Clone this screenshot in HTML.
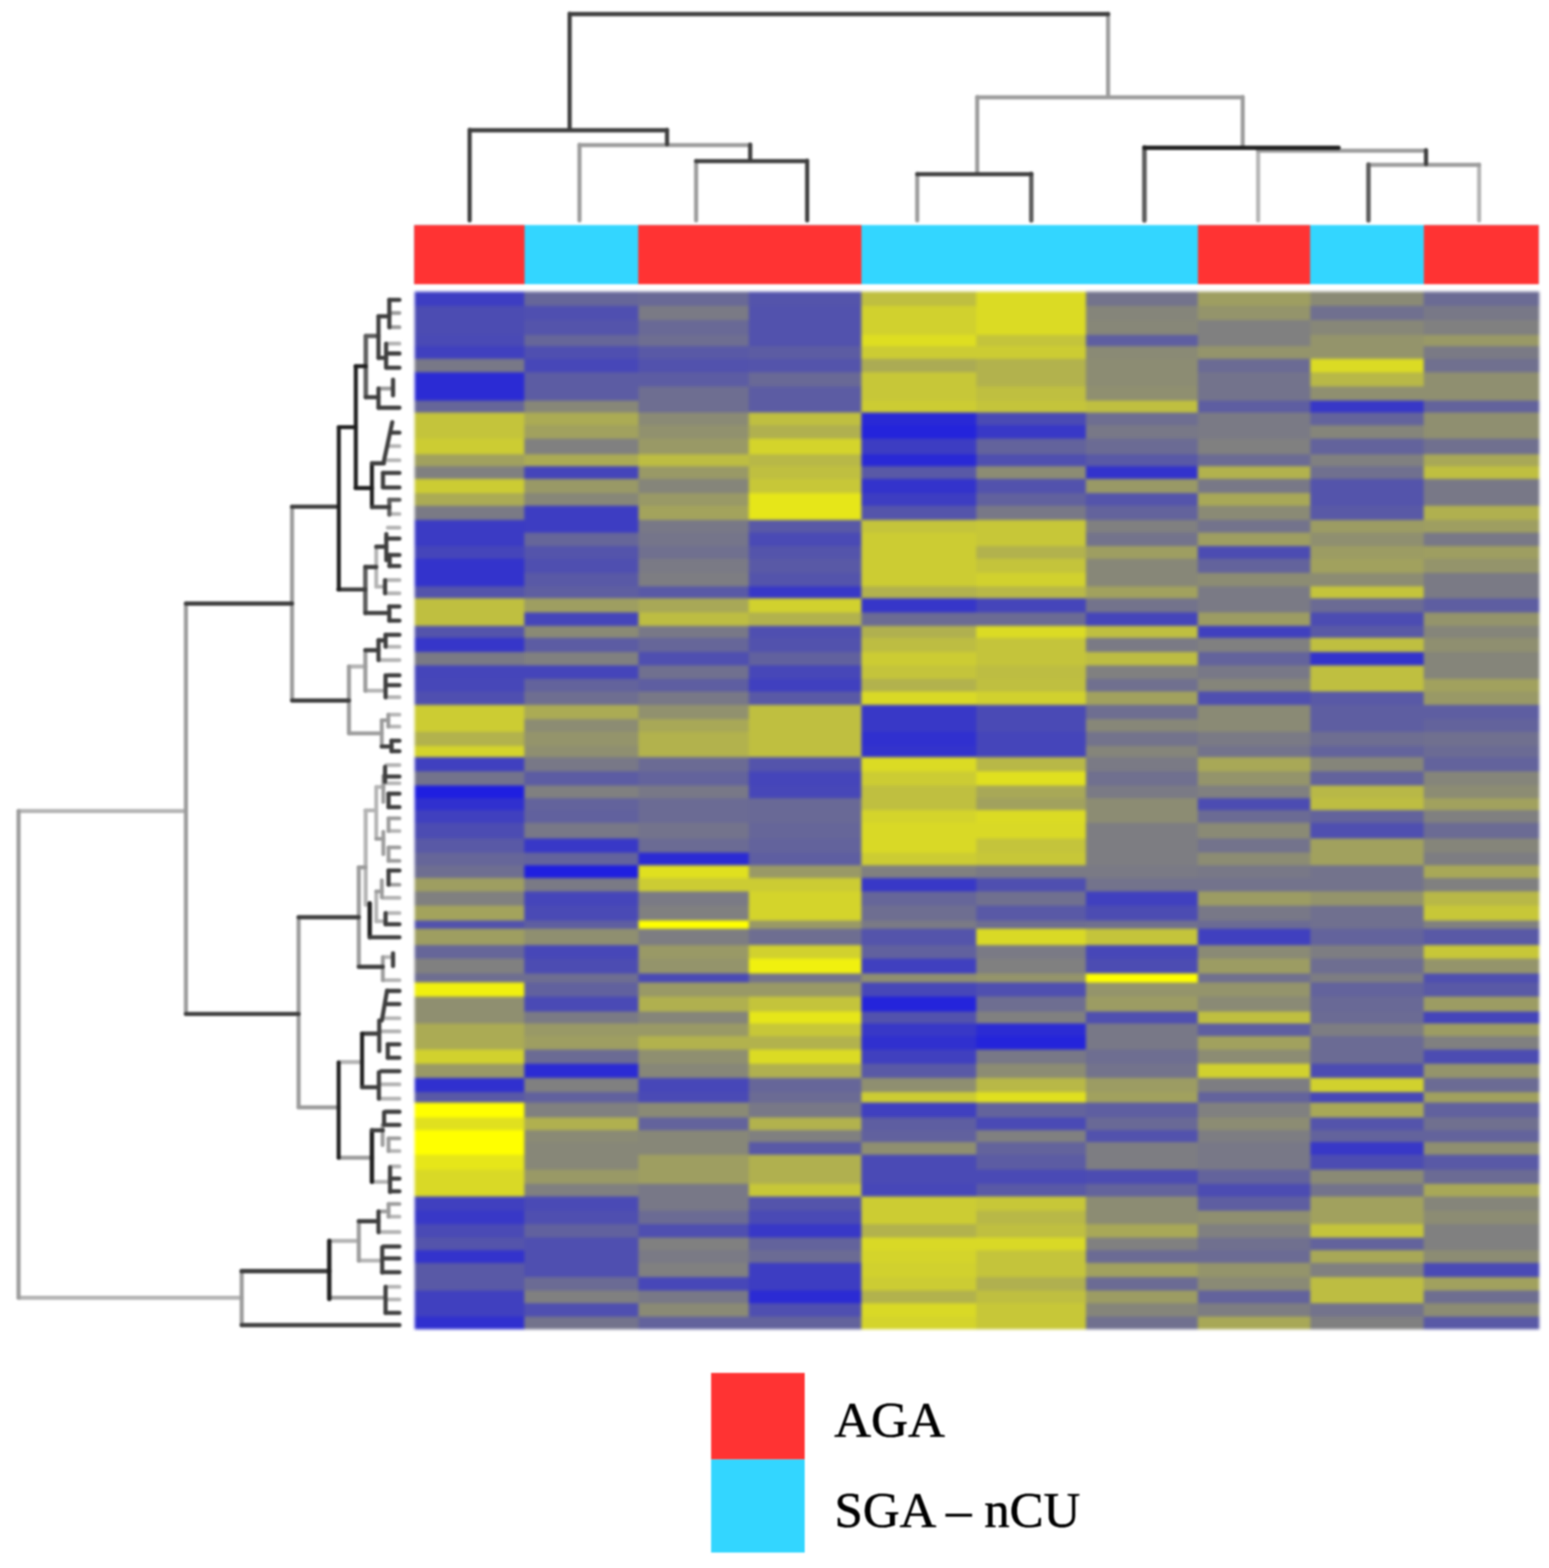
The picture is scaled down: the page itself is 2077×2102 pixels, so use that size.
<!DOCTYPE html>
<html lang="en"><head><meta charset="utf-8"><title>Heatmap AGA vs SGA-nCU</title>
<style>html,body{margin:0;padding:0;background:#fff}body{width:2077px;height:2102px;overflow:hidden;position:relative}svg{position:absolute;left:0;top:0;display:block}text{font-family:"Liberation Serif","DejaVu Serif",serif;fill:#000}</style></head><body>
<svg width="2077" height="2102" viewBox="0 0 2077 2102">
<defs><filter id="b1" x="-5%" y="-5%" width="110%" height="110%" color-interpolation-filters="sRGB"><feGaussianBlur stdDeviation="2.0 2.2"/></filter><filter id="b2" x="-5%" y="-5%" width="110%" height="110%" color-interpolation-filters="sRGB"><feGaussianBlur stdDeviation="1.7"/></filter><filter id="b3" x="-5%" y="-5%" width="110%" height="110%" color-interpolation-filters="sRGB"><feGaussianBlur stdDeviation="1.1"/></filter><filter id="b4" x="-5%" y="-20%" width="110%" height="140%" color-interpolation-filters="sRGB"><feGaussianBlur stdDeviation="1.2"/></filter></defs>
<rect width="2077" height="2102" fill="#fff"/>
<g filter="url(#b1)" shape-rendering="crispEdges">
<rect x="556.0" y="390.8" width="147.7" height="19.0" fill="#3d3dc2"/>
<rect x="556.0" y="409.5" width="147.7" height="19.8" fill="#4c4cb2"/>
<rect x="556.0" y="429.0" width="147.7" height="19.8" fill="#4c4cb2"/>
<rect x="556.0" y="448.5" width="147.7" height="15.8" fill="#4a4ab5"/>
<rect x="556.0" y="464.0" width="147.7" height="17.3" fill="#4040bf"/>
<rect x="556.0" y="481.0" width="147.7" height="17.8" fill="#787887"/>
<rect x="556.0" y="498.5" width="147.7" height="19.8" fill="#2b2bd4"/>
<rect x="556.0" y="518.0" width="147.7" height="19.3" fill="#2b2bd4"/>
<rect x="556.0" y="537.0" width="147.7" height="15.8" fill="#666699"/>
<rect x="556.0" y="552.5" width="147.7" height="17.8" fill="#c4c43b"/>
<rect x="556.0" y="570.0" width="147.7" height="18.3" fill="#c4c43b"/>
<rect x="556.0" y="588.0" width="147.7" height="21.1" fill="#cccc33"/>
<rect x="556.0" y="608.8" width="147.7" height="16.0" fill="#a1a15e"/>
<rect x="556.0" y="624.5" width="147.7" height="17.3" fill="#808080"/>
<rect x="556.0" y="641.5" width="147.7" height="19.4" fill="#cccc33"/>
<rect x="556.0" y="660.6" width="147.7" height="17.3" fill="#abab54"/>
<rect x="556.0" y="677.6" width="147.7" height="19.5" fill="#7a7a85"/>
<rect x="556.0" y="696.8" width="147.7" height="17.3" fill="#3b3bc4"/>
<rect x="556.0" y="713.8" width="147.7" height="18.0" fill="#3b3bc4"/>
<rect x="556.0" y="731.5" width="147.7" height="17.8" fill="#4545ba"/>
<rect x="556.0" y="749.0" width="147.7" height="19.3" fill="#3333cc"/>
<rect x="556.0" y="768.0" width="147.7" height="18.4" fill="#3333cc"/>
<rect x="556.0" y="786.1" width="147.7" height="16.2" fill="#5454ab"/>
<rect x="556.0" y="802.0" width="147.7" height="18.9" fill="#bfbf40"/>
<rect x="556.0" y="820.6" width="147.7" height="18.2" fill="#bfbf40"/>
<rect x="556.0" y="838.5" width="147.7" height="16.3" fill="#5454ab"/>
<rect x="556.0" y="854.5" width="147.7" height="19.8" fill="#3636c9"/>
<rect x="556.0" y="874.0" width="147.7" height="18.5" fill="#7a7a85"/>
<rect x="556.0" y="892.2" width="147.7" height="17.9" fill="#4545ba"/>
<rect x="556.0" y="909.8" width="147.7" height="17.9" fill="#4747b8"/>
<rect x="556.0" y="927.4" width="147.7" height="17.9" fill="#4f4fb0"/>
<rect x="556.0" y="945.0" width="147.7" height="19.2" fill="#cccc33"/>
<rect x="556.0" y="963.9" width="147.7" height="17.4" fill="#cccc33"/>
<rect x="556.0" y="981.0" width="147.7" height="19.0" fill="#b2b24d"/>
<rect x="556.0" y="999.7" width="147.7" height="15.6" fill="#d4d42b"/>
<rect x="556.0" y="1015.0" width="147.7" height="19.6" fill="#4040bf"/>
<rect x="556.0" y="1034.3" width="147.7" height="19.0" fill="#73738c"/>
<rect x="556.0" y="1053.0" width="147.7" height="16.8" fill="#1f1fe0"/>
<rect x="556.0" y="1069.5" width="147.7" height="16.5" fill="#3030cf"/>
<rect x="556.0" y="1085.7" width="147.7" height="17.9" fill="#4040bf"/>
<rect x="556.0" y="1103.3" width="147.7" height="21.0" fill="#4c4cb2"/>
<rect x="556.0" y="1124.0" width="147.7" height="19.2" fill="#5959a6"/>
<rect x="556.0" y="1142.9" width="147.7" height="17.2" fill="#666699"/>
<rect x="556.0" y="1159.8" width="147.7" height="17.5" fill="#6e6e91"/>
<rect x="556.0" y="1177.0" width="147.7" height="18.3" fill="#9e9e61"/>
<rect x="556.0" y="1195.0" width="147.7" height="19.3" fill="#808080"/>
<rect x="556.0" y="1214.0" width="147.7" height="20.6" fill="#a3a35c"/>
<rect x="556.0" y="1234.3" width="147.7" height="11.3" fill="#5252ad"/>
<rect x="556.0" y="1245.3" width="147.7" height="22.0" fill="#9e9e61"/>
<rect x="556.0" y="1267.0" width="147.7" height="18.3" fill="#666699"/>
<rect x="556.0" y="1285.0" width="147.7" height="20.1" fill="#808080"/>
<rect x="556.0" y="1304.8" width="147.7" height="12.0" fill="#6e6e91"/>
<rect x="556.0" y="1316.5" width="147.7" height="19.8" fill="#f0f00f"/>
<rect x="556.0" y="1336.0" width="147.7" height="19.8" fill="#8f8f70"/>
<rect x="556.0" y="1355.5" width="147.7" height="17.1" fill="#8f8f70"/>
<rect x="556.0" y="1372.3" width="147.7" height="17.3" fill="#abab54"/>
<rect x="556.0" y="1389.3" width="147.7" height="17.5" fill="#abab54"/>
<rect x="556.0" y="1406.5" width="147.7" height="19.8" fill="#d1d12e"/>
<rect x="556.0" y="1426.0" width="147.7" height="19.5" fill="#999966"/>
<rect x="556.0" y="1445.2" width="147.7" height="19.2" fill="#3030cf"/>
<rect x="556.0" y="1464.1" width="147.7" height="14.1" fill="#5959a6"/>
<rect x="556.0" y="1477.9" width="147.7" height="19.9" fill="#ffff00"/>
<rect x="556.0" y="1497.5" width="147.7" height="17.3" fill="#e0e01f"/>
<rect x="556.0" y="1514.5" width="147.7" height="16.8" fill="#ffff00"/>
<rect x="556.0" y="1531.0" width="147.7" height="17.3" fill="#ffff00"/>
<rect x="556.0" y="1548.0" width="147.7" height="20.3" fill="#e6e619"/>
<rect x="556.0" y="1568.0" width="147.7" height="19.0" fill="#d9d926"/>
<rect x="556.0" y="1586.7" width="147.7" height="18.0" fill="#d9d926"/>
<rect x="556.0" y="1604.4" width="147.7" height="18.9" fill="#4040bf"/>
<rect x="556.0" y="1623.0" width="147.7" height="17.8" fill="#3838c7"/>
<rect x="556.0" y="1640.5" width="147.7" height="18.5" fill="#4a4ab5"/>
<rect x="556.0" y="1658.7" width="147.7" height="17.6" fill="#5454ab"/>
<rect x="556.0" y="1676.0" width="147.7" height="17.3" fill="#3333cc"/>
<rect x="556.0" y="1693.0" width="147.7" height="18.8" fill="#5959a6"/>
<rect x="556.0" y="1711.5" width="147.7" height="18.8" fill="#5959a6"/>
<rect x="556.0" y="1730.0" width="147.7" height="17.5" fill="#4040bf"/>
<rect x="556.0" y="1747.2" width="147.7" height="18.4" fill="#4040bf"/>
<rect x="556.0" y="1765.3" width="147.7" height="16.6" fill="#3030cf"/>
<rect x="703.4" y="390.8" width="152.7" height="19.0" fill="#666699"/>
<rect x="703.4" y="409.5" width="152.7" height="19.8" fill="#4f4fb0"/>
<rect x="703.4" y="429.0" width="152.7" height="19.8" fill="#5454ab"/>
<rect x="703.4" y="448.5" width="152.7" height="15.8" fill="#666699"/>
<rect x="703.4" y="464.0" width="152.7" height="17.3" fill="#4f4fb0"/>
<rect x="703.4" y="481.0" width="152.7" height="17.8" fill="#4747b8"/>
<rect x="703.4" y="498.5" width="152.7" height="19.8" fill="#5c5ca3"/>
<rect x="703.4" y="518.0" width="152.7" height="19.3" fill="#5c5ca3"/>
<rect x="703.4" y="537.0" width="152.7" height="15.8" fill="#878778"/>
<rect x="703.4" y="552.5" width="152.7" height="17.8" fill="#abab54"/>
<rect x="703.4" y="570.0" width="152.7" height="18.3" fill="#a1a15e"/>
<rect x="703.4" y="588.0" width="152.7" height="21.1" fill="#808080"/>
<rect x="703.4" y="608.8" width="152.7" height="16.0" fill="#abab54"/>
<rect x="703.4" y="624.5" width="152.7" height="17.3" fill="#4545ba"/>
<rect x="703.4" y="641.5" width="152.7" height="19.4" fill="#999966"/>
<rect x="703.4" y="660.6" width="152.7" height="17.3" fill="#878778"/>
<rect x="703.4" y="677.6" width="152.7" height="19.5" fill="#3d3dc2"/>
<rect x="703.4" y="696.8" width="152.7" height="17.3" fill="#3d3dc2"/>
<rect x="703.4" y="713.8" width="152.7" height="18.0" fill="#666699"/>
<rect x="703.4" y="731.5" width="152.7" height="17.8" fill="#5454ab"/>
<rect x="703.4" y="749.0" width="152.7" height="19.3" fill="#4f4fb0"/>
<rect x="703.4" y="768.0" width="152.7" height="18.4" fill="#5959a6"/>
<rect x="703.4" y="786.1" width="152.7" height="16.2" fill="#5e5ea1"/>
<rect x="703.4" y="802.0" width="152.7" height="18.9" fill="#9e9e61"/>
<rect x="703.4" y="820.6" width="152.7" height="18.2" fill="#4545ba"/>
<rect x="703.4" y="838.5" width="152.7" height="16.3" fill="#8a8a75"/>
<rect x="703.4" y="854.5" width="152.7" height="19.8" fill="#5c5ca3"/>
<rect x="703.4" y="874.0" width="152.7" height="18.5" fill="#808080"/>
<rect x="703.4" y="892.2" width="152.7" height="17.9" fill="#4545ba"/>
<rect x="703.4" y="909.8" width="152.7" height="17.9" fill="#63639c"/>
<rect x="703.4" y="927.4" width="152.7" height="17.9" fill="#6e6e91"/>
<rect x="703.4" y="945.0" width="152.7" height="19.2" fill="#abab54"/>
<rect x="703.4" y="963.9" width="152.7" height="17.4" fill="#8c8c73"/>
<rect x="703.4" y="981.0" width="152.7" height="19.0" fill="#94946b"/>
<rect x="703.4" y="999.7" width="152.7" height="15.6" fill="#8f8f70"/>
<rect x="703.4" y="1015.0" width="152.7" height="19.6" fill="#787887"/>
<rect x="703.4" y="1034.3" width="152.7" height="19.0" fill="#5c5ca3"/>
<rect x="703.4" y="1053.0" width="152.7" height="16.8" fill="#808080"/>
<rect x="703.4" y="1069.5" width="152.7" height="16.5" fill="#63639c"/>
<rect x="703.4" y="1085.7" width="152.7" height="17.9" fill="#61619e"/>
<rect x="703.4" y="1103.3" width="152.7" height="21.0" fill="#787887"/>
<rect x="703.4" y="1124.0" width="152.7" height="19.2" fill="#3838c7"/>
<rect x="703.4" y="1142.9" width="152.7" height="17.2" fill="#63639c"/>
<rect x="703.4" y="1159.8" width="152.7" height="17.5" fill="#1f1fe0"/>
<rect x="703.4" y="1177.0" width="152.7" height="18.3" fill="#7a7a85"/>
<rect x="703.4" y="1195.0" width="152.7" height="19.3" fill="#4545ba"/>
<rect x="703.4" y="1214.0" width="152.7" height="20.6" fill="#4a4ab5"/>
<rect x="703.4" y="1234.3" width="152.7" height="11.3" fill="#5e5ea1"/>
<rect x="703.4" y="1245.3" width="152.7" height="22.0" fill="#8f8f70"/>
<rect x="703.4" y="1267.0" width="152.7" height="18.3" fill="#4747b8"/>
<rect x="703.4" y="1285.0" width="152.7" height="20.1" fill="#4c4cb2"/>
<rect x="703.4" y="1304.8" width="152.7" height="12.0" fill="#6e6e91"/>
<rect x="703.4" y="1316.5" width="152.7" height="19.8" fill="#61619e"/>
<rect x="703.4" y="1336.0" width="152.7" height="19.8" fill="#4a4ab5"/>
<rect x="703.4" y="1355.5" width="152.7" height="17.1" fill="#7a7a85"/>
<rect x="703.4" y="1372.3" width="152.7" height="17.3" fill="#999966"/>
<rect x="703.4" y="1389.3" width="152.7" height="17.5" fill="#9e9e61"/>
<rect x="703.4" y="1406.5" width="152.7" height="19.8" fill="#6b6b94"/>
<rect x="703.4" y="1426.0" width="152.7" height="19.5" fill="#2b2bd4"/>
<rect x="703.4" y="1445.2" width="152.7" height="19.2" fill="#808080"/>
<rect x="703.4" y="1464.1" width="152.7" height="14.1" fill="#61619e"/>
<rect x="703.4" y="1477.9" width="152.7" height="19.9" fill="#808080"/>
<rect x="703.4" y="1497.5" width="152.7" height="17.3" fill="#b0b04f"/>
<rect x="703.4" y="1514.5" width="152.7" height="16.8" fill="#8a8a75"/>
<rect x="703.4" y="1531.0" width="152.7" height="17.3" fill="#878778"/>
<rect x="703.4" y="1548.0" width="152.7" height="20.3" fill="#878778"/>
<rect x="703.4" y="1568.0" width="152.7" height="19.0" fill="#999966"/>
<rect x="703.4" y="1586.7" width="152.7" height="18.0" fill="#808080"/>
<rect x="703.4" y="1604.4" width="152.7" height="18.9" fill="#4a4ab5"/>
<rect x="703.4" y="1623.0" width="152.7" height="17.8" fill="#4f4fb0"/>
<rect x="703.4" y="1640.5" width="152.7" height="18.5" fill="#61619e"/>
<rect x="703.4" y="1658.7" width="152.7" height="17.6" fill="#4f4fb0"/>
<rect x="703.4" y="1676.0" width="152.7" height="17.3" fill="#4f4fb0"/>
<rect x="703.4" y="1693.0" width="152.7" height="18.8" fill="#4f4fb0"/>
<rect x="703.4" y="1711.5" width="152.7" height="18.8" fill="#6b6b94"/>
<rect x="703.4" y="1730.0" width="152.7" height="17.5" fill="#808080"/>
<rect x="703.4" y="1747.2" width="152.7" height="18.4" fill="#4f4fb0"/>
<rect x="703.4" y="1765.3" width="152.7" height="16.6" fill="#73738c"/>
<rect x="855.8" y="390.8" width="148.4" height="19.0" fill="#696996"/>
<rect x="855.8" y="409.5" width="148.4" height="19.8" fill="#7a7a85"/>
<rect x="855.8" y="429.0" width="148.4" height="19.8" fill="#696996"/>
<rect x="855.8" y="448.5" width="148.4" height="15.8" fill="#6e6e91"/>
<rect x="855.8" y="464.0" width="148.4" height="17.3" fill="#5959a6"/>
<rect x="855.8" y="481.0" width="148.4" height="17.8" fill="#5252ad"/>
<rect x="855.8" y="498.5" width="148.4" height="19.8" fill="#5c5ca3"/>
<rect x="855.8" y="518.0" width="148.4" height="19.3" fill="#6e6e91"/>
<rect x="855.8" y="537.0" width="148.4" height="15.8" fill="#6e6e91"/>
<rect x="855.8" y="552.5" width="148.4" height="17.8" fill="#8a8a75"/>
<rect x="855.8" y="570.0" width="148.4" height="18.3" fill="#91916e"/>
<rect x="855.8" y="588.0" width="148.4" height="21.1" fill="#999966"/>
<rect x="855.8" y="608.8" width="148.4" height="16.0" fill="#bdbd42"/>
<rect x="855.8" y="624.5" width="148.4" height="17.3" fill="#999966"/>
<rect x="855.8" y="641.5" width="148.4" height="19.4" fill="#85857a"/>
<rect x="855.8" y="660.6" width="148.4" height="17.3" fill="#999966"/>
<rect x="855.8" y="677.6" width="148.4" height="19.5" fill="#a3a35c"/>
<rect x="855.8" y="696.8" width="148.4" height="17.3" fill="#787887"/>
<rect x="855.8" y="713.8" width="148.4" height="18.0" fill="#75758a"/>
<rect x="855.8" y="731.5" width="148.4" height="17.8" fill="#70708f"/>
<rect x="855.8" y="749.0" width="148.4" height="19.3" fill="#7a7a85"/>
<rect x="855.8" y="768.0" width="148.4" height="18.4" fill="#7d7d82"/>
<rect x="855.8" y="786.1" width="148.4" height="16.2" fill="#5959a6"/>
<rect x="855.8" y="802.0" width="148.4" height="18.9" fill="#a8a857"/>
<rect x="855.8" y="820.6" width="148.4" height="18.2" fill="#bdbd42"/>
<rect x="855.8" y="838.5" width="148.4" height="16.3" fill="#787887"/>
<rect x="855.8" y="854.5" width="148.4" height="19.8" fill="#666699"/>
<rect x="855.8" y="874.0" width="148.4" height="18.5" fill="#4f4fb0"/>
<rect x="855.8" y="892.2" width="148.4" height="17.9" fill="#70708f"/>
<rect x="855.8" y="909.8" width="148.4" height="17.9" fill="#5e5ea1"/>
<rect x="855.8" y="927.4" width="148.4" height="17.9" fill="#787887"/>
<rect x="855.8" y="945.0" width="148.4" height="19.2" fill="#91916e"/>
<rect x="855.8" y="963.9" width="148.4" height="17.4" fill="#a8a857"/>
<rect x="855.8" y="981.0" width="148.4" height="19.0" fill="#b2b24d"/>
<rect x="855.8" y="999.7" width="148.4" height="15.6" fill="#b2b24d"/>
<rect x="855.8" y="1015.0" width="148.4" height="19.6" fill="#6b6b94"/>
<rect x="855.8" y="1034.3" width="148.4" height="19.0" fill="#63639c"/>
<rect x="855.8" y="1053.0" width="148.4" height="16.8" fill="#787887"/>
<rect x="855.8" y="1069.5" width="148.4" height="16.5" fill="#6b6b94"/>
<rect x="855.8" y="1085.7" width="148.4" height="17.9" fill="#6b6b94"/>
<rect x="855.8" y="1103.3" width="148.4" height="21.0" fill="#73738c"/>
<rect x="855.8" y="1124.0" width="148.4" height="19.2" fill="#6b6b94"/>
<rect x="855.8" y="1142.9" width="148.4" height="17.2" fill="#2b2bd4"/>
<rect x="855.8" y="1159.8" width="148.4" height="17.5" fill="#e0e01f"/>
<rect x="855.8" y="1177.0" width="148.4" height="18.3" fill="#cccc33"/>
<rect x="855.8" y="1195.0" width="148.4" height="19.3" fill="#7a7a85"/>
<rect x="855.8" y="1214.0" width="148.4" height="20.6" fill="#808080"/>
<rect x="855.8" y="1234.3" width="148.4" height="11.3" fill="#ffff00"/>
<rect x="855.8" y="1245.3" width="148.4" height="22.0" fill="#7d7d82"/>
<rect x="855.8" y="1267.0" width="148.4" height="18.3" fill="#999966"/>
<rect x="855.8" y="1285.0" width="148.4" height="20.1" fill="#94946b"/>
<rect x="855.8" y="1304.8" width="148.4" height="12.0" fill="#4a4ab5"/>
<rect x="855.8" y="1316.5" width="148.4" height="19.8" fill="#999966"/>
<rect x="855.8" y="1336.0" width="148.4" height="19.8" fill="#b0b04f"/>
<rect x="855.8" y="1355.5" width="148.4" height="17.1" fill="#85857a"/>
<rect x="855.8" y="1372.3" width="148.4" height="17.3" fill="#999966"/>
<rect x="855.8" y="1389.3" width="148.4" height="17.5" fill="#b2b24d"/>
<rect x="855.8" y="1406.5" width="148.4" height="19.8" fill="#8f8f70"/>
<rect x="855.8" y="1426.0" width="148.4" height="19.5" fill="#878778"/>
<rect x="855.8" y="1445.2" width="148.4" height="19.2" fill="#4747b8"/>
<rect x="855.8" y="1464.1" width="148.4" height="14.1" fill="#4a4ab5"/>
<rect x="855.8" y="1477.9" width="148.4" height="19.9" fill="#8a8a75"/>
<rect x="855.8" y="1497.5" width="148.4" height="17.3" fill="#63639c"/>
<rect x="855.8" y="1514.5" width="148.4" height="16.8" fill="#878778"/>
<rect x="855.8" y="1531.0" width="148.4" height="17.3" fill="#878778"/>
<rect x="855.8" y="1548.0" width="148.4" height="20.3" fill="#9e9e61"/>
<rect x="855.8" y="1568.0" width="148.4" height="19.0" fill="#9e9e61"/>
<rect x="855.8" y="1586.7" width="148.4" height="18.0" fill="#787887"/>
<rect x="855.8" y="1604.4" width="148.4" height="18.9" fill="#787887"/>
<rect x="855.8" y="1623.0" width="148.4" height="17.8" fill="#6b6b94"/>
<rect x="855.8" y="1640.5" width="148.4" height="18.5" fill="#4f4fb0"/>
<rect x="855.8" y="1658.7" width="148.4" height="17.6" fill="#808080"/>
<rect x="855.8" y="1676.0" width="148.4" height="17.3" fill="#7a7a85"/>
<rect x="855.8" y="1693.0" width="148.4" height="18.8" fill="#808080"/>
<rect x="855.8" y="1711.5" width="148.4" height="18.8" fill="#4747b8"/>
<rect x="855.8" y="1730.0" width="148.4" height="17.5" fill="#787887"/>
<rect x="855.8" y="1747.2" width="148.4" height="18.4" fill="#8a8a75"/>
<rect x="855.8" y="1765.3" width="148.4" height="16.6" fill="#63639c"/>
<rect x="1003.9" y="390.8" width="151.5" height="19.0" fill="#5454ab"/>
<rect x="1003.9" y="409.5" width="151.5" height="19.8" fill="#5252ad"/>
<rect x="1003.9" y="429.0" width="151.5" height="19.8" fill="#5252ad"/>
<rect x="1003.9" y="448.5" width="151.5" height="15.8" fill="#5252ad"/>
<rect x="1003.9" y="464.0" width="151.5" height="17.3" fill="#5c5ca3"/>
<rect x="1003.9" y="481.0" width="151.5" height="17.8" fill="#5454ab"/>
<rect x="1003.9" y="498.5" width="151.5" height="19.8" fill="#696996"/>
<rect x="1003.9" y="518.0" width="151.5" height="19.3" fill="#5c5ca3"/>
<rect x="1003.9" y="537.0" width="151.5" height="15.8" fill="#5c5ca3"/>
<rect x="1003.9" y="552.5" width="151.5" height="17.8" fill="#bfbf40"/>
<rect x="1003.9" y="570.0" width="151.5" height="18.3" fill="#b0b04f"/>
<rect x="1003.9" y="588.0" width="151.5" height="21.1" fill="#d4d42b"/>
<rect x="1003.9" y="608.8" width="151.5" height="16.0" fill="#b8b847"/>
<rect x="1003.9" y="624.5" width="151.5" height="17.3" fill="#bfbf40"/>
<rect x="1003.9" y="641.5" width="151.5" height="19.4" fill="#c7c738"/>
<rect x="1003.9" y="660.6" width="151.5" height="17.3" fill="#e6e619"/>
<rect x="1003.9" y="677.6" width="151.5" height="19.5" fill="#e6e619"/>
<rect x="1003.9" y="696.8" width="151.5" height="17.3" fill="#5959a6"/>
<rect x="1003.9" y="713.8" width="151.5" height="18.0" fill="#4a4ab5"/>
<rect x="1003.9" y="731.5" width="151.5" height="17.8" fill="#5454ab"/>
<rect x="1003.9" y="749.0" width="151.5" height="19.3" fill="#5959a6"/>
<rect x="1003.9" y="768.0" width="151.5" height="18.4" fill="#5454ab"/>
<rect x="1003.9" y="786.1" width="151.5" height="16.2" fill="#3838c7"/>
<rect x="1003.9" y="802.0" width="151.5" height="18.9" fill="#d1d12e"/>
<rect x="1003.9" y="820.6" width="151.5" height="18.2" fill="#b2b24d"/>
<rect x="1003.9" y="838.5" width="151.5" height="16.3" fill="#4f4fb0"/>
<rect x="1003.9" y="854.5" width="151.5" height="19.8" fill="#5252ad"/>
<rect x="1003.9" y="874.0" width="151.5" height="18.5" fill="#61619e"/>
<rect x="1003.9" y="892.2" width="151.5" height="17.9" fill="#4747b8"/>
<rect x="1003.9" y="909.8" width="151.5" height="17.9" fill="#4040bf"/>
<rect x="1003.9" y="927.4" width="151.5" height="17.9" fill="#5959a6"/>
<rect x="1003.9" y="945.0" width="151.5" height="19.2" fill="#bfbf40"/>
<rect x="1003.9" y="963.9" width="151.5" height="17.4" fill="#bfbf40"/>
<rect x="1003.9" y="981.0" width="151.5" height="19.0" fill="#bfbf40"/>
<rect x="1003.9" y="999.7" width="151.5" height="15.6" fill="#bfbf40"/>
<rect x="1003.9" y="1015.0" width="151.5" height="19.6" fill="#5454ab"/>
<rect x="1003.9" y="1034.3" width="151.5" height="19.0" fill="#4545ba"/>
<rect x="1003.9" y="1053.0" width="151.5" height="16.8" fill="#4747b8"/>
<rect x="1003.9" y="1069.5" width="151.5" height="16.5" fill="#696996"/>
<rect x="1003.9" y="1085.7" width="151.5" height="17.9" fill="#696996"/>
<rect x="1003.9" y="1103.3" width="151.5" height="21.0" fill="#666699"/>
<rect x="1003.9" y="1124.0" width="151.5" height="19.2" fill="#63639c"/>
<rect x="1003.9" y="1142.9" width="151.5" height="17.2" fill="#5e5ea1"/>
<rect x="1003.9" y="1159.8" width="151.5" height="17.5" fill="#999966"/>
<rect x="1003.9" y="1177.0" width="151.5" height="18.3" fill="#cccc33"/>
<rect x="1003.9" y="1195.0" width="151.5" height="19.3" fill="#d4d42b"/>
<rect x="1003.9" y="1214.0" width="151.5" height="20.6" fill="#d4d42b"/>
<rect x="1003.9" y="1234.3" width="151.5" height="11.3" fill="#999966"/>
<rect x="1003.9" y="1245.3" width="151.5" height="22.0" fill="#6e6e91"/>
<rect x="1003.9" y="1267.0" width="151.5" height="18.3" fill="#d1d12e"/>
<rect x="1003.9" y="1285.0" width="151.5" height="20.1" fill="#f0f00f"/>
<rect x="1003.9" y="1304.8" width="151.5" height="12.0" fill="#73738c"/>
<rect x="1003.9" y="1316.5" width="151.5" height="19.8" fill="#999966"/>
<rect x="1003.9" y="1336.0" width="151.5" height="19.8" fill="#c4c43b"/>
<rect x="1003.9" y="1355.5" width="151.5" height="17.1" fill="#e6e619"/>
<rect x="1003.9" y="1372.3" width="151.5" height="17.3" fill="#c7c738"/>
<rect x="1003.9" y="1389.3" width="151.5" height="17.5" fill="#b2b24d"/>
<rect x="1003.9" y="1406.5" width="151.5" height="19.8" fill="#dbdb24"/>
<rect x="1003.9" y="1426.0" width="151.5" height="19.5" fill="#b0b04f"/>
<rect x="1003.9" y="1445.2" width="151.5" height="19.2" fill="#666699"/>
<rect x="1003.9" y="1464.1" width="151.5" height="14.1" fill="#6b6b94"/>
<rect x="1003.9" y="1477.9" width="151.5" height="19.9" fill="#787887"/>
<rect x="1003.9" y="1497.5" width="151.5" height="17.3" fill="#b2b24d"/>
<rect x="1003.9" y="1514.5" width="151.5" height="16.8" fill="#808080"/>
<rect x="1003.9" y="1531.0" width="151.5" height="17.3" fill="#5959a6"/>
<rect x="1003.9" y="1548.0" width="151.5" height="20.3" fill="#b0b04f"/>
<rect x="1003.9" y="1568.0" width="151.5" height="19.0" fill="#b0b04f"/>
<rect x="1003.9" y="1586.7" width="151.5" height="18.0" fill="#c7c738"/>
<rect x="1003.9" y="1604.4" width="151.5" height="18.9" fill="#5454ab"/>
<rect x="1003.9" y="1623.0" width="151.5" height="17.8" fill="#4a4ab5"/>
<rect x="1003.9" y="1640.5" width="151.5" height="18.5" fill="#3838c7"/>
<rect x="1003.9" y="1658.7" width="151.5" height="17.6" fill="#63639c"/>
<rect x="1003.9" y="1676.0" width="151.5" height="17.3" fill="#6b6b94"/>
<rect x="1003.9" y="1693.0" width="151.5" height="18.8" fill="#3d3dc2"/>
<rect x="1003.9" y="1711.5" width="151.5" height="18.8" fill="#3d3dc2"/>
<rect x="1003.9" y="1730.0" width="151.5" height="17.5" fill="#2b2bd4"/>
<rect x="1003.9" y="1747.2" width="151.5" height="18.4" fill="#4f4fb0"/>
<rect x="1003.9" y="1765.3" width="151.5" height="16.6" fill="#63639c"/>
<rect x="1155.1" y="390.8" width="153.7" height="19.0" fill="#bfbf40"/>
<rect x="1155.1" y="409.5" width="153.7" height="19.8" fill="#d1d12e"/>
<rect x="1155.1" y="429.0" width="153.7" height="19.8" fill="#d1d12e"/>
<rect x="1155.1" y="448.5" width="153.7" height="15.8" fill="#dede21"/>
<rect x="1155.1" y="464.0" width="153.7" height="17.3" fill="#cccc33"/>
<rect x="1155.1" y="481.0" width="153.7" height="17.8" fill="#abab54"/>
<rect x="1155.1" y="498.5" width="153.7" height="19.8" fill="#c7c738"/>
<rect x="1155.1" y="518.0" width="153.7" height="19.3" fill="#c7c738"/>
<rect x="1155.1" y="537.0" width="153.7" height="15.8" fill="#cccc33"/>
<rect x="1155.1" y="552.5" width="153.7" height="17.8" fill="#2929d6"/>
<rect x="1155.1" y="570.0" width="153.7" height="18.3" fill="#2424db"/>
<rect x="1155.1" y="588.0" width="153.7" height="21.1" fill="#3d3dc2"/>
<rect x="1155.1" y="608.8" width="153.7" height="16.0" fill="#2929d6"/>
<rect x="1155.1" y="624.5" width="153.7" height="17.3" fill="#5959a6"/>
<rect x="1155.1" y="641.5" width="153.7" height="19.4" fill="#3333cc"/>
<rect x="1155.1" y="660.6" width="153.7" height="17.3" fill="#3d3dc2"/>
<rect x="1155.1" y="677.6" width="153.7" height="19.5" fill="#5454ab"/>
<rect x="1155.1" y="696.8" width="153.7" height="17.3" fill="#c4c43b"/>
<rect x="1155.1" y="713.8" width="153.7" height="18.0" fill="#cccc33"/>
<rect x="1155.1" y="731.5" width="153.7" height="17.8" fill="#cccc33"/>
<rect x="1155.1" y="749.0" width="153.7" height="19.3" fill="#cccc33"/>
<rect x="1155.1" y="768.0" width="153.7" height="18.4" fill="#cccc33"/>
<rect x="1155.1" y="786.1" width="153.7" height="16.2" fill="#b2b24d"/>
<rect x="1155.1" y="802.0" width="153.7" height="18.9" fill="#3636c9"/>
<rect x="1155.1" y="820.6" width="153.7" height="18.2" fill="#6b6b94"/>
<rect x="1155.1" y="838.5" width="153.7" height="16.3" fill="#b0b04f"/>
<rect x="1155.1" y="854.5" width="153.7" height="19.8" fill="#bdbd42"/>
<rect x="1155.1" y="874.0" width="153.7" height="18.5" fill="#cccc33"/>
<rect x="1155.1" y="892.2" width="153.7" height="17.9" fill="#c4c43b"/>
<rect x="1155.1" y="909.8" width="153.7" height="17.9" fill="#b2b24d"/>
<rect x="1155.1" y="927.4" width="153.7" height="17.9" fill="#d9d926"/>
<rect x="1155.1" y="945.0" width="153.7" height="19.2" fill="#3838c7"/>
<rect x="1155.1" y="963.9" width="153.7" height="17.4" fill="#3838c7"/>
<rect x="1155.1" y="981.0" width="153.7" height="19.0" fill="#3030cf"/>
<rect x="1155.1" y="999.7" width="153.7" height="15.6" fill="#3333cc"/>
<rect x="1155.1" y="1015.0" width="153.7" height="19.6" fill="#dbdb24"/>
<rect x="1155.1" y="1034.3" width="153.7" height="19.0" fill="#cccc33"/>
<rect x="1155.1" y="1053.0" width="153.7" height="16.8" fill="#bfbf40"/>
<rect x="1155.1" y="1069.5" width="153.7" height="16.5" fill="#bfbf40"/>
<rect x="1155.1" y="1085.7" width="153.7" height="17.9" fill="#d4d42b"/>
<rect x="1155.1" y="1103.3" width="153.7" height="21.0" fill="#d9d926"/>
<rect x="1155.1" y="1124.0" width="153.7" height="19.2" fill="#d9d926"/>
<rect x="1155.1" y="1142.9" width="153.7" height="17.2" fill="#cccc33"/>
<rect x="1155.1" y="1159.8" width="153.7" height="17.5" fill="#808080"/>
<rect x="1155.1" y="1177.0" width="153.7" height="18.3" fill="#3838c7"/>
<rect x="1155.1" y="1195.0" width="153.7" height="19.3" fill="#666699"/>
<rect x="1155.1" y="1214.0" width="153.7" height="20.6" fill="#6e6e91"/>
<rect x="1155.1" y="1234.3" width="153.7" height="11.3" fill="#7a7a85"/>
<rect x="1155.1" y="1245.3" width="153.7" height="22.0" fill="#5454ab"/>
<rect x="1155.1" y="1267.0" width="153.7" height="18.3" fill="#61619e"/>
<rect x="1155.1" y="1285.0" width="153.7" height="20.1" fill="#4040bf"/>
<rect x="1155.1" y="1304.8" width="153.7" height="12.0" fill="#8f8f70"/>
<rect x="1155.1" y="1316.5" width="153.7" height="19.8" fill="#4747b8"/>
<rect x="1155.1" y="1336.0" width="153.7" height="19.8" fill="#2424db"/>
<rect x="1155.1" y="1355.5" width="153.7" height="17.1" fill="#5252ad"/>
<rect x="1155.1" y="1372.3" width="153.7" height="17.3" fill="#3838c7"/>
<rect x="1155.1" y="1389.3" width="153.7" height="17.5" fill="#3030cf"/>
<rect x="1155.1" y="1406.5" width="153.7" height="19.8" fill="#4040bf"/>
<rect x="1155.1" y="1426.0" width="153.7" height="19.5" fill="#5959a6"/>
<rect x="1155.1" y="1445.2" width="153.7" height="19.2" fill="#8f8f70"/>
<rect x="1155.1" y="1464.1" width="153.7" height="14.1" fill="#cccc33"/>
<rect x="1155.1" y="1477.9" width="153.7" height="19.9" fill="#4040bf"/>
<rect x="1155.1" y="1497.5" width="153.7" height="17.3" fill="#5e5ea1"/>
<rect x="1155.1" y="1514.5" width="153.7" height="16.8" fill="#61619e"/>
<rect x="1155.1" y="1531.0" width="153.7" height="17.3" fill="#8f8f70"/>
<rect x="1155.1" y="1548.0" width="153.7" height="20.3" fill="#4a4ab5"/>
<rect x="1155.1" y="1568.0" width="153.7" height="19.0" fill="#4a4ab5"/>
<rect x="1155.1" y="1586.7" width="153.7" height="18.0" fill="#4747b8"/>
<rect x="1155.1" y="1604.4" width="153.7" height="18.9" fill="#cccc33"/>
<rect x="1155.1" y="1623.0" width="153.7" height="17.8" fill="#cccc33"/>
<rect x="1155.1" y="1640.5" width="153.7" height="18.5" fill="#b2b24d"/>
<rect x="1155.1" y="1658.7" width="153.7" height="17.6" fill="#d9d926"/>
<rect x="1155.1" y="1676.0" width="153.7" height="17.3" fill="#d4d42b"/>
<rect x="1155.1" y="1693.0" width="153.7" height="18.8" fill="#d1d12e"/>
<rect x="1155.1" y="1711.5" width="153.7" height="18.8" fill="#cccc33"/>
<rect x="1155.1" y="1730.0" width="153.7" height="17.5" fill="#b2b24d"/>
<rect x="1155.1" y="1747.2" width="153.7" height="18.4" fill="#d9d926"/>
<rect x="1155.1" y="1765.3" width="153.7" height="16.6" fill="#d4d42b"/>
<rect x="1308.5" y="390.8" width="148.0" height="19.0" fill="#dbdb24"/>
<rect x="1308.5" y="409.5" width="148.0" height="19.8" fill="#dbdb24"/>
<rect x="1308.5" y="429.0" width="148.0" height="19.8" fill="#dbdb24"/>
<rect x="1308.5" y="448.5" width="148.0" height="15.8" fill="#c4c43b"/>
<rect x="1308.5" y="464.0" width="148.0" height="17.3" fill="#cccc33"/>
<rect x="1308.5" y="481.0" width="148.0" height="17.8" fill="#b2b24d"/>
<rect x="1308.5" y="498.5" width="148.0" height="19.8" fill="#b2b24d"/>
<rect x="1308.5" y="518.0" width="148.0" height="19.3" fill="#bfbf40"/>
<rect x="1308.5" y="537.0" width="148.0" height="15.8" fill="#c4c43b"/>
<rect x="1308.5" y="552.5" width="148.0" height="17.8" fill="#4a4ab5"/>
<rect x="1308.5" y="570.0" width="148.0" height="18.3" fill="#3838c7"/>
<rect x="1308.5" y="588.0" width="148.0" height="21.1" fill="#63639c"/>
<rect x="1308.5" y="608.8" width="148.0" height="16.0" fill="#4f4fb0"/>
<rect x="1308.5" y="624.5" width="148.0" height="17.3" fill="#8c8c73"/>
<rect x="1308.5" y="641.5" width="148.0" height="19.4" fill="#5252ad"/>
<rect x="1308.5" y="660.6" width="148.0" height="17.3" fill="#61619e"/>
<rect x="1308.5" y="677.6" width="148.0" height="19.5" fill="#787887"/>
<rect x="1308.5" y="696.8" width="148.0" height="17.3" fill="#c7c738"/>
<rect x="1308.5" y="713.8" width="148.0" height="18.0" fill="#c7c738"/>
<rect x="1308.5" y="731.5" width="148.0" height="17.8" fill="#b2b24d"/>
<rect x="1308.5" y="749.0" width="148.0" height="19.3" fill="#c4c43b"/>
<rect x="1308.5" y="768.0" width="148.0" height="18.4" fill="#d1d12e"/>
<rect x="1308.5" y="786.1" width="148.0" height="16.2" fill="#b8b847"/>
<rect x="1308.5" y="802.0" width="148.0" height="18.9" fill="#4545ba"/>
<rect x="1308.5" y="820.6" width="148.0" height="18.2" fill="#6b6b94"/>
<rect x="1308.5" y="838.5" width="148.0" height="16.3" fill="#dbdb24"/>
<rect x="1308.5" y="854.5" width="148.0" height="19.8" fill="#c4c43b"/>
<rect x="1308.5" y="874.0" width="148.0" height="18.5" fill="#c4c43b"/>
<rect x="1308.5" y="892.2" width="148.0" height="17.9" fill="#bdbd42"/>
<rect x="1308.5" y="909.8" width="148.0" height="17.9" fill="#bfbf40"/>
<rect x="1308.5" y="927.4" width="148.0" height="17.9" fill="#d1d12e"/>
<rect x="1308.5" y="945.0" width="148.0" height="19.2" fill="#4a4ab5"/>
<rect x="1308.5" y="963.9" width="148.0" height="17.4" fill="#4a4ab5"/>
<rect x="1308.5" y="981.0" width="148.0" height="19.0" fill="#4545ba"/>
<rect x="1308.5" y="999.7" width="148.0" height="15.6" fill="#4545ba"/>
<rect x="1308.5" y="1015.0" width="148.0" height="19.6" fill="#b8b847"/>
<rect x="1308.5" y="1034.3" width="148.0" height="19.0" fill="#e0e01f"/>
<rect x="1308.5" y="1053.0" width="148.0" height="16.8" fill="#a8a857"/>
<rect x="1308.5" y="1069.5" width="148.0" height="16.5" fill="#a1a15e"/>
<rect x="1308.5" y="1085.7" width="148.0" height="17.9" fill="#dbdb24"/>
<rect x="1308.5" y="1103.3" width="148.0" height="21.0" fill="#d9d926"/>
<rect x="1308.5" y="1124.0" width="148.0" height="19.2" fill="#c4c43b"/>
<rect x="1308.5" y="1142.9" width="148.0" height="17.2" fill="#c7c738"/>
<rect x="1308.5" y="1159.8" width="148.0" height="17.5" fill="#7a7a85"/>
<rect x="1308.5" y="1177.0" width="148.0" height="18.3" fill="#4f4fb0"/>
<rect x="1308.5" y="1195.0" width="148.0" height="19.3" fill="#70708f"/>
<rect x="1308.5" y="1214.0" width="148.0" height="20.6" fill="#5959a6"/>
<rect x="1308.5" y="1234.3" width="148.0" height="11.3" fill="#6e6e91"/>
<rect x="1308.5" y="1245.3" width="148.0" height="22.0" fill="#d9d926"/>
<rect x="1308.5" y="1267.0" width="148.0" height="18.3" fill="#7a7a85"/>
<rect x="1308.5" y="1285.0" width="148.0" height="20.1" fill="#808080"/>
<rect x="1308.5" y="1304.8" width="148.0" height="12.0" fill="#94946b"/>
<rect x="1308.5" y="1316.5" width="148.0" height="19.8" fill="#4f4fb0"/>
<rect x="1308.5" y="1336.0" width="148.0" height="19.8" fill="#6e6e91"/>
<rect x="1308.5" y="1355.5" width="148.0" height="17.1" fill="#808080"/>
<rect x="1308.5" y="1372.3" width="148.0" height="17.3" fill="#2b2bd4"/>
<rect x="1308.5" y="1389.3" width="148.0" height="17.5" fill="#2424db"/>
<rect x="1308.5" y="1406.5" width="148.0" height="19.8" fill="#787887"/>
<rect x="1308.5" y="1426.0" width="148.0" height="19.5" fill="#8c8c73"/>
<rect x="1308.5" y="1445.2" width="148.0" height="19.2" fill="#b8b847"/>
<rect x="1308.5" y="1464.1" width="148.0" height="14.1" fill="#e0e01f"/>
<rect x="1308.5" y="1477.9" width="148.0" height="19.9" fill="#63639c"/>
<rect x="1308.5" y="1497.5" width="148.0" height="17.3" fill="#4a4ab5"/>
<rect x="1308.5" y="1514.5" width="148.0" height="16.8" fill="#808080"/>
<rect x="1308.5" y="1531.0" width="148.0" height="17.3" fill="#63639c"/>
<rect x="1308.5" y="1548.0" width="148.0" height="20.3" fill="#5c5ca3"/>
<rect x="1308.5" y="1568.0" width="148.0" height="19.0" fill="#4a4ab5"/>
<rect x="1308.5" y="1586.7" width="148.0" height="18.0" fill="#5959a6"/>
<rect x="1308.5" y="1604.4" width="148.0" height="18.9" fill="#c7c738"/>
<rect x="1308.5" y="1623.0" width="148.0" height="17.8" fill="#b8b847"/>
<rect x="1308.5" y="1640.5" width="148.0" height="18.5" fill="#bfbf40"/>
<rect x="1308.5" y="1658.7" width="148.0" height="17.6" fill="#d9d926"/>
<rect x="1308.5" y="1676.0" width="148.0" height="17.3" fill="#c4c43b"/>
<rect x="1308.5" y="1693.0" width="148.0" height="18.8" fill="#c4c43b"/>
<rect x="1308.5" y="1711.5" width="148.0" height="18.8" fill="#b0b04f"/>
<rect x="1308.5" y="1730.0" width="148.0" height="17.5" fill="#bfbf40"/>
<rect x="1308.5" y="1747.2" width="148.0" height="18.4" fill="#c7c738"/>
<rect x="1308.5" y="1765.3" width="148.0" height="16.6" fill="#c7c738"/>
<rect x="1456.2" y="390.8" width="150.4" height="19.0" fill="#73738c"/>
<rect x="1456.2" y="409.5" width="150.4" height="19.8" fill="#85857a"/>
<rect x="1456.2" y="429.0" width="150.4" height="19.8" fill="#878778"/>
<rect x="1456.2" y="448.5" width="150.4" height="15.8" fill="#5e5ea1"/>
<rect x="1456.2" y="464.0" width="150.4" height="17.3" fill="#8a8a75"/>
<rect x="1456.2" y="481.0" width="150.4" height="17.8" fill="#8c8c73"/>
<rect x="1456.2" y="498.5" width="150.4" height="19.8" fill="#8c8c73"/>
<rect x="1456.2" y="518.0" width="150.4" height="19.3" fill="#8f8f70"/>
<rect x="1456.2" y="537.0" width="150.4" height="15.8" fill="#bfbf40"/>
<rect x="1456.2" y="552.5" width="150.4" height="17.8" fill="#6e6e91"/>
<rect x="1456.2" y="570.0" width="150.4" height="18.3" fill="#787887"/>
<rect x="1456.2" y="588.0" width="150.4" height="21.1" fill="#6b6b94"/>
<rect x="1456.2" y="608.8" width="150.4" height="16.0" fill="#5959a6"/>
<rect x="1456.2" y="624.5" width="150.4" height="17.3" fill="#3333cc"/>
<rect x="1456.2" y="641.5" width="150.4" height="19.4" fill="#999966"/>
<rect x="1456.2" y="660.6" width="150.4" height="17.3" fill="#5454ab"/>
<rect x="1456.2" y="677.6" width="150.4" height="19.5" fill="#63639c"/>
<rect x="1456.2" y="696.8" width="150.4" height="17.3" fill="#808080"/>
<rect x="1456.2" y="713.8" width="150.4" height="18.0" fill="#73738c"/>
<rect x="1456.2" y="731.5" width="150.4" height="17.8" fill="#9e9e61"/>
<rect x="1456.2" y="749.0" width="150.4" height="19.3" fill="#878778"/>
<rect x="1456.2" y="768.0" width="150.4" height="18.4" fill="#878778"/>
<rect x="1456.2" y="786.1" width="150.4" height="16.2" fill="#a1a15e"/>
<rect x="1456.2" y="802.0" width="150.4" height="18.9" fill="#73738c"/>
<rect x="1456.2" y="820.6" width="150.4" height="18.2" fill="#4545ba"/>
<rect x="1456.2" y="838.5" width="150.4" height="16.3" fill="#bfbf40"/>
<rect x="1456.2" y="854.5" width="150.4" height="19.8" fill="#7a7a85"/>
<rect x="1456.2" y="874.0" width="150.4" height="18.5" fill="#bdbd42"/>
<rect x="1456.2" y="892.2" width="150.4" height="17.9" fill="#808080"/>
<rect x="1456.2" y="909.8" width="150.4" height="17.9" fill="#70708f"/>
<rect x="1456.2" y="927.4" width="150.4" height="17.9" fill="#a1a15e"/>
<rect x="1456.2" y="945.0" width="150.4" height="19.2" fill="#6e6e91"/>
<rect x="1456.2" y="963.9" width="150.4" height="17.4" fill="#878778"/>
<rect x="1456.2" y="981.0" width="150.4" height="19.0" fill="#73738c"/>
<rect x="1456.2" y="999.7" width="150.4" height="15.6" fill="#85857a"/>
<rect x="1456.2" y="1015.0" width="150.4" height="19.6" fill="#7a7a85"/>
<rect x="1456.2" y="1034.3" width="150.4" height="19.0" fill="#70708f"/>
<rect x="1456.2" y="1053.0" width="150.4" height="16.8" fill="#7a7a85"/>
<rect x="1456.2" y="1069.5" width="150.4" height="16.5" fill="#8c8c73"/>
<rect x="1456.2" y="1085.7" width="150.4" height="17.9" fill="#8c8c73"/>
<rect x="1456.2" y="1103.3" width="150.4" height="21.0" fill="#7d7d82"/>
<rect x="1456.2" y="1124.0" width="150.4" height="19.2" fill="#7d7d82"/>
<rect x="1456.2" y="1142.9" width="150.4" height="17.2" fill="#7d7d82"/>
<rect x="1456.2" y="1159.8" width="150.4" height="17.5" fill="#7a7a85"/>
<rect x="1456.2" y="1177.0" width="150.4" height="18.3" fill="#73738c"/>
<rect x="1456.2" y="1195.0" width="150.4" height="19.3" fill="#4040bf"/>
<rect x="1456.2" y="1214.0" width="150.4" height="20.6" fill="#4c4cb2"/>
<rect x="1456.2" y="1234.3" width="150.4" height="11.3" fill="#70708f"/>
<rect x="1456.2" y="1245.3" width="150.4" height="22.0" fill="#c4c43b"/>
<rect x="1456.2" y="1267.0" width="150.4" height="18.3" fill="#4747b8"/>
<rect x="1456.2" y="1285.0" width="150.4" height="20.1" fill="#4c4cb2"/>
<rect x="1456.2" y="1304.8" width="150.4" height="12.0" fill="#ffff00"/>
<rect x="1456.2" y="1316.5" width="150.4" height="19.8" fill="#94946b"/>
<rect x="1456.2" y="1336.0" width="150.4" height="19.8" fill="#9c9c63"/>
<rect x="1456.2" y="1355.5" width="150.4" height="17.1" fill="#4f4fb0"/>
<rect x="1456.2" y="1372.3" width="150.4" height="17.3" fill="#787887"/>
<rect x="1456.2" y="1389.3" width="150.4" height="17.5" fill="#787887"/>
<rect x="1456.2" y="1406.5" width="150.4" height="19.8" fill="#6e6e91"/>
<rect x="1456.2" y="1426.0" width="150.4" height="19.5" fill="#73738c"/>
<rect x="1456.2" y="1445.2" width="150.4" height="19.2" fill="#9c9c63"/>
<rect x="1456.2" y="1464.1" width="150.4" height="14.1" fill="#a1a15e"/>
<rect x="1456.2" y="1477.9" width="150.4" height="19.9" fill="#5e5ea1"/>
<rect x="1456.2" y="1497.5" width="150.4" height="17.3" fill="#696996"/>
<rect x="1456.2" y="1514.5" width="150.4" height="16.8" fill="#5252ad"/>
<rect x="1456.2" y="1531.0" width="150.4" height="17.3" fill="#7d7d82"/>
<rect x="1456.2" y="1548.0" width="150.4" height="20.3" fill="#7d7d82"/>
<rect x="1456.2" y="1568.0" width="150.4" height="19.0" fill="#4c4cb2"/>
<rect x="1456.2" y="1586.7" width="150.4" height="18.0" fill="#63639c"/>
<rect x="1456.2" y="1604.4" width="150.4" height="18.9" fill="#8c8c73"/>
<rect x="1456.2" y="1623.0" width="150.4" height="17.8" fill="#8c8c73"/>
<rect x="1456.2" y="1640.5" width="150.4" height="18.5" fill="#a8a857"/>
<rect x="1456.2" y="1658.7" width="150.4" height="17.6" fill="#808080"/>
<rect x="1456.2" y="1676.0" width="150.4" height="17.3" fill="#6b6b94"/>
<rect x="1456.2" y="1693.0" width="150.4" height="18.8" fill="#a1a15e"/>
<rect x="1456.2" y="1711.5" width="150.4" height="18.8" fill="#6b6b94"/>
<rect x="1456.2" y="1730.0" width="150.4" height="17.5" fill="#9c9c63"/>
<rect x="1456.2" y="1747.2" width="150.4" height="18.4" fill="#85857a"/>
<rect x="1456.2" y="1765.3" width="150.4" height="16.6" fill="#70708f"/>
<rect x="1606.3" y="390.8" width="150.7" height="19.0" fill="#9e9e61"/>
<rect x="1606.3" y="409.5" width="150.7" height="19.8" fill="#94946b"/>
<rect x="1606.3" y="429.0" width="150.7" height="19.8" fill="#808080"/>
<rect x="1606.3" y="448.5" width="150.7" height="15.8" fill="#808080"/>
<rect x="1606.3" y="464.0" width="150.7" height="17.3" fill="#94946b"/>
<rect x="1606.3" y="481.0" width="150.7" height="17.8" fill="#6b6b94"/>
<rect x="1606.3" y="498.5" width="150.7" height="19.8" fill="#73738c"/>
<rect x="1606.3" y="518.0" width="150.7" height="19.3" fill="#73738c"/>
<rect x="1606.3" y="537.0" width="150.7" height="15.8" fill="#5e5ea1"/>
<rect x="1606.3" y="552.5" width="150.7" height="17.8" fill="#7a7a85"/>
<rect x="1606.3" y="570.0" width="150.7" height="18.3" fill="#7a7a85"/>
<rect x="1606.3" y="588.0" width="150.7" height="21.1" fill="#808080"/>
<rect x="1606.3" y="608.8" width="150.7" height="16.0" fill="#6b6b94"/>
<rect x="1606.3" y="624.5" width="150.7" height="17.3" fill="#b2b24d"/>
<rect x="1606.3" y="641.5" width="150.7" height="19.4" fill="#787887"/>
<rect x="1606.3" y="660.6" width="150.7" height="17.3" fill="#a8a857"/>
<rect x="1606.3" y="677.6" width="150.7" height="19.5" fill="#8a8a75"/>
<rect x="1606.3" y="696.8" width="150.7" height="17.3" fill="#73738c"/>
<rect x="1606.3" y="713.8" width="150.7" height="18.0" fill="#9e9e61"/>
<rect x="1606.3" y="731.5" width="150.7" height="17.8" fill="#4c4cb2"/>
<rect x="1606.3" y="749.0" width="150.7" height="19.3" fill="#63639c"/>
<rect x="1606.3" y="768.0" width="150.7" height="18.4" fill="#8c8c73"/>
<rect x="1606.3" y="786.1" width="150.7" height="16.2" fill="#7a7a85"/>
<rect x="1606.3" y="802.0" width="150.7" height="18.9" fill="#7a7a85"/>
<rect x="1606.3" y="820.6" width="150.7" height="18.2" fill="#9c9c63"/>
<rect x="1606.3" y="838.5" width="150.7" height="16.3" fill="#4040bf"/>
<rect x="1606.3" y="854.5" width="150.7" height="19.8" fill="#808080"/>
<rect x="1606.3" y="874.0" width="150.7" height="18.5" fill="#63639c"/>
<rect x="1606.3" y="892.2" width="150.7" height="17.9" fill="#787887"/>
<rect x="1606.3" y="909.8" width="150.7" height="17.9" fill="#85857a"/>
<rect x="1606.3" y="927.4" width="150.7" height="17.9" fill="#4f4fb0"/>
<rect x="1606.3" y="945.0" width="150.7" height="19.2" fill="#8a8a75"/>
<rect x="1606.3" y="963.9" width="150.7" height="17.4" fill="#8a8a75"/>
<rect x="1606.3" y="981.0" width="150.7" height="19.0" fill="#7a7a85"/>
<rect x="1606.3" y="999.7" width="150.7" height="15.6" fill="#73738c"/>
<rect x="1606.3" y="1015.0" width="150.7" height="19.6" fill="#a8a857"/>
<rect x="1606.3" y="1034.3" width="150.7" height="19.0" fill="#94946b"/>
<rect x="1606.3" y="1053.0" width="150.7" height="16.8" fill="#808080"/>
<rect x="1606.3" y="1069.5" width="150.7" height="16.5" fill="#4c4cb2"/>
<rect x="1606.3" y="1085.7" width="150.7" height="17.9" fill="#6b6b94"/>
<rect x="1606.3" y="1103.3" width="150.7" height="21.0" fill="#8a8a75"/>
<rect x="1606.3" y="1124.0" width="150.7" height="19.2" fill="#73738c"/>
<rect x="1606.3" y="1142.9" width="150.7" height="17.2" fill="#8c8c73"/>
<rect x="1606.3" y="1159.8" width="150.7" height="17.5" fill="#787887"/>
<rect x="1606.3" y="1177.0" width="150.7" height="18.3" fill="#73738c"/>
<rect x="1606.3" y="1195.0" width="150.7" height="19.3" fill="#9c9c63"/>
<rect x="1606.3" y="1214.0" width="150.7" height="20.6" fill="#787887"/>
<rect x="1606.3" y="1234.3" width="150.7" height="11.3" fill="#6b6b94"/>
<rect x="1606.3" y="1245.3" width="150.7" height="22.0" fill="#4040bf"/>
<rect x="1606.3" y="1267.0" width="150.7" height="18.3" fill="#8a8a75"/>
<rect x="1606.3" y="1285.0" width="150.7" height="20.1" fill="#9c9c63"/>
<rect x="1606.3" y="1304.8" width="150.7" height="12.0" fill="#70708f"/>
<rect x="1606.3" y="1316.5" width="150.7" height="19.8" fill="#94946b"/>
<rect x="1606.3" y="1336.0" width="150.7" height="19.8" fill="#8a8a75"/>
<rect x="1606.3" y="1355.5" width="150.7" height="17.1" fill="#bfbf40"/>
<rect x="1606.3" y="1372.3" width="150.7" height="17.3" fill="#5e5ea1"/>
<rect x="1606.3" y="1389.3" width="150.7" height="17.5" fill="#a1a15e"/>
<rect x="1606.3" y="1406.5" width="150.7" height="19.8" fill="#8c8c73"/>
<rect x="1606.3" y="1426.0" width="150.7" height="19.5" fill="#d1d12e"/>
<rect x="1606.3" y="1445.2" width="150.7" height="19.2" fill="#7d7d82"/>
<rect x="1606.3" y="1464.1" width="150.7" height="14.1" fill="#63639c"/>
<rect x="1606.3" y="1477.9" width="150.7" height="19.9" fill="#808080"/>
<rect x="1606.3" y="1497.5" width="150.7" height="17.3" fill="#8c8c73"/>
<rect x="1606.3" y="1514.5" width="150.7" height="16.8" fill="#7d7d82"/>
<rect x="1606.3" y="1531.0" width="150.7" height="17.3" fill="#787887"/>
<rect x="1606.3" y="1548.0" width="150.7" height="20.3" fill="#787887"/>
<rect x="1606.3" y="1568.0" width="150.7" height="19.0" fill="#63639c"/>
<rect x="1606.3" y="1586.7" width="150.7" height="18.0" fill="#4c4cb2"/>
<rect x="1606.3" y="1604.4" width="150.7" height="18.9" fill="#5e5ea1"/>
<rect x="1606.3" y="1623.0" width="150.7" height="17.8" fill="#8f8f70"/>
<rect x="1606.3" y="1640.5" width="150.7" height="18.5" fill="#808080"/>
<rect x="1606.3" y="1658.7" width="150.7" height="17.6" fill="#70708f"/>
<rect x="1606.3" y="1676.0" width="150.7" height="17.3" fill="#6b6b94"/>
<rect x="1606.3" y="1693.0" width="150.7" height="18.8" fill="#94946b"/>
<rect x="1606.3" y="1711.5" width="150.7" height="18.8" fill="#8a8a75"/>
<rect x="1606.3" y="1730.0" width="150.7" height="17.5" fill="#63639c"/>
<rect x="1606.3" y="1747.2" width="150.7" height="18.4" fill="#7d7d82"/>
<rect x="1606.3" y="1765.3" width="150.7" height="16.6" fill="#a8a857"/>
<rect x="1756.7" y="390.8" width="152.8" height="19.0" fill="#8a8a75"/>
<rect x="1756.7" y="409.5" width="152.8" height="19.8" fill="#70708f"/>
<rect x="1756.7" y="429.0" width="152.8" height="19.8" fill="#878778"/>
<rect x="1756.7" y="448.5" width="152.8" height="15.8" fill="#94946b"/>
<rect x="1756.7" y="464.0" width="152.8" height="17.3" fill="#94946b"/>
<rect x="1756.7" y="481.0" width="152.8" height="17.8" fill="#dbdb24"/>
<rect x="1756.7" y="498.5" width="152.8" height="19.8" fill="#b8b847"/>
<rect x="1756.7" y="518.0" width="152.8" height="19.3" fill="#8f8f70"/>
<rect x="1756.7" y="537.0" width="152.8" height="15.8" fill="#3838c7"/>
<rect x="1756.7" y="552.5" width="152.8" height="17.8" fill="#63639c"/>
<rect x="1756.7" y="570.0" width="152.8" height="18.3" fill="#85857a"/>
<rect x="1756.7" y="588.0" width="152.8" height="21.1" fill="#63639c"/>
<rect x="1756.7" y="608.8" width="152.8" height="16.0" fill="#808080"/>
<rect x="1756.7" y="624.5" width="152.8" height="17.3" fill="#70708f"/>
<rect x="1756.7" y="641.5" width="152.8" height="19.4" fill="#5454ab"/>
<rect x="1756.7" y="660.6" width="152.8" height="17.3" fill="#5454ab"/>
<rect x="1756.7" y="677.6" width="152.8" height="19.5" fill="#5959a6"/>
<rect x="1756.7" y="696.8" width="152.8" height="17.3" fill="#9c9c63"/>
<rect x="1756.7" y="713.8" width="152.8" height="18.0" fill="#8f8f70"/>
<rect x="1756.7" y="731.5" width="152.8" height="17.8" fill="#9c9c63"/>
<rect x="1756.7" y="749.0" width="152.8" height="19.3" fill="#a1a15e"/>
<rect x="1756.7" y="768.0" width="152.8" height="18.4" fill="#8c8c73"/>
<rect x="1756.7" y="786.1" width="152.8" height="16.2" fill="#c4c43b"/>
<rect x="1756.7" y="802.0" width="152.8" height="18.9" fill="#6b6b94"/>
<rect x="1756.7" y="820.6" width="152.8" height="18.2" fill="#4c4cb2"/>
<rect x="1756.7" y="838.5" width="152.8" height="16.3" fill="#5959a6"/>
<rect x="1756.7" y="854.5" width="152.8" height="19.8" fill="#bfbf40"/>
<rect x="1756.7" y="874.0" width="152.8" height="18.5" fill="#3333cc"/>
<rect x="1756.7" y="892.2" width="152.8" height="17.9" fill="#bfbf40"/>
<rect x="1756.7" y="909.8" width="152.8" height="17.9" fill="#bfbf40"/>
<rect x="1756.7" y="927.4" width="152.8" height="17.9" fill="#5959a6"/>
<rect x="1756.7" y="945.0" width="152.8" height="19.2" fill="#5e5ea1"/>
<rect x="1756.7" y="963.9" width="152.8" height="17.4" fill="#5e5ea1"/>
<rect x="1756.7" y="981.0" width="152.8" height="19.0" fill="#6e6e91"/>
<rect x="1756.7" y="999.7" width="152.8" height="15.6" fill="#63639c"/>
<rect x="1756.7" y="1015.0" width="152.8" height="19.6" fill="#85857a"/>
<rect x="1756.7" y="1034.3" width="152.8" height="19.0" fill="#63639c"/>
<rect x="1756.7" y="1053.0" width="152.8" height="16.8" fill="#b8b847"/>
<rect x="1756.7" y="1069.5" width="152.8" height="16.5" fill="#bdbd42"/>
<rect x="1756.7" y="1085.7" width="152.8" height="17.9" fill="#63639c"/>
<rect x="1756.7" y="1103.3" width="152.8" height="21.0" fill="#4f4fb0"/>
<rect x="1756.7" y="1124.0" width="152.8" height="19.2" fill="#a1a15e"/>
<rect x="1756.7" y="1142.9" width="152.8" height="17.2" fill="#a1a15e"/>
<rect x="1756.7" y="1159.8" width="152.8" height="17.5" fill="#73738c"/>
<rect x="1756.7" y="1177.0" width="152.8" height="18.3" fill="#73738c"/>
<rect x="1756.7" y="1195.0" width="152.8" height="19.3" fill="#94946b"/>
<rect x="1756.7" y="1214.0" width="152.8" height="20.6" fill="#70708f"/>
<rect x="1756.7" y="1234.3" width="152.8" height="11.3" fill="#70708f"/>
<rect x="1756.7" y="1245.3" width="152.8" height="22.0" fill="#63639c"/>
<rect x="1756.7" y="1267.0" width="152.8" height="18.3" fill="#7d7d82"/>
<rect x="1756.7" y="1285.0" width="152.8" height="20.1" fill="#6e6e91"/>
<rect x="1756.7" y="1304.8" width="152.8" height="12.0" fill="#7d7d82"/>
<rect x="1756.7" y="1316.5" width="152.8" height="19.8" fill="#63639c"/>
<rect x="1756.7" y="1336.0" width="152.8" height="19.8" fill="#696996"/>
<rect x="1756.7" y="1355.5" width="152.8" height="17.1" fill="#6b6b94"/>
<rect x="1756.7" y="1372.3" width="152.8" height="17.3" fill="#7d7d82"/>
<rect x="1756.7" y="1389.3" width="152.8" height="17.5" fill="#6b6b94"/>
<rect x="1756.7" y="1406.5" width="152.8" height="19.8" fill="#6b6b94"/>
<rect x="1756.7" y="1426.0" width="152.8" height="19.5" fill="#4c4cb2"/>
<rect x="1756.7" y="1445.2" width="152.8" height="19.2" fill="#d1d12e"/>
<rect x="1756.7" y="1464.1" width="152.8" height="14.1" fill="#4747b8"/>
<rect x="1756.7" y="1477.9" width="152.8" height="19.9" fill="#a8a857"/>
<rect x="1756.7" y="1497.5" width="152.8" height="17.3" fill="#5454ab"/>
<rect x="1756.7" y="1514.5" width="152.8" height="16.8" fill="#63639c"/>
<rect x="1756.7" y="1531.0" width="152.8" height="17.3" fill="#3838c7"/>
<rect x="1756.7" y="1548.0" width="152.8" height="20.3" fill="#4c4cb2"/>
<rect x="1756.7" y="1568.0" width="152.8" height="19.0" fill="#8a8a75"/>
<rect x="1756.7" y="1586.7" width="152.8" height="18.0" fill="#73738c"/>
<rect x="1756.7" y="1604.4" width="152.8" height="18.9" fill="#a1a15e"/>
<rect x="1756.7" y="1623.0" width="152.8" height="17.8" fill="#a1a15e"/>
<rect x="1756.7" y="1640.5" width="152.8" height="18.5" fill="#c4c43b"/>
<rect x="1756.7" y="1658.7" width="152.8" height="17.6" fill="#63639c"/>
<rect x="1756.7" y="1676.0" width="152.8" height="17.3" fill="#a8a857"/>
<rect x="1756.7" y="1693.0" width="152.8" height="18.8" fill="#808080"/>
<rect x="1756.7" y="1711.5" width="152.8" height="18.8" fill="#bdbd42"/>
<rect x="1756.7" y="1730.0" width="152.8" height="17.5" fill="#bdbd42"/>
<rect x="1756.7" y="1747.2" width="152.8" height="18.4" fill="#73738c"/>
<rect x="1756.7" y="1765.3" width="152.8" height="16.6" fill="#808080"/>
<rect x="1909.2" y="390.8" width="154.4" height="19.0" fill="#6b6b94"/>
<rect x="1909.2" y="409.5" width="154.4" height="19.8" fill="#787887"/>
<rect x="1909.2" y="429.0" width="154.4" height="19.8" fill="#808080"/>
<rect x="1909.2" y="448.5" width="154.4" height="15.8" fill="#999966"/>
<rect x="1909.2" y="464.0" width="154.4" height="17.3" fill="#7a7a85"/>
<rect x="1909.2" y="481.0" width="154.4" height="17.8" fill="#70708f"/>
<rect x="1909.2" y="498.5" width="154.4" height="19.8" fill="#8f8f70"/>
<rect x="1909.2" y="518.0" width="154.4" height="19.3" fill="#8f8f70"/>
<rect x="1909.2" y="537.0" width="154.4" height="15.8" fill="#63639c"/>
<rect x="1909.2" y="552.5" width="154.4" height="17.8" fill="#8f8f70"/>
<rect x="1909.2" y="570.0" width="154.4" height="18.3" fill="#8f8f70"/>
<rect x="1909.2" y="588.0" width="154.4" height="21.1" fill="#70708f"/>
<rect x="1909.2" y="608.8" width="154.4" height="16.0" fill="#a8a857"/>
<rect x="1909.2" y="624.5" width="154.4" height="17.3" fill="#bfbf40"/>
<rect x="1909.2" y="641.5" width="154.4" height="19.4" fill="#787887"/>
<rect x="1909.2" y="660.6" width="154.4" height="17.3" fill="#787887"/>
<rect x="1909.2" y="677.6" width="154.4" height="19.5" fill="#b0b04f"/>
<rect x="1909.2" y="696.8" width="154.4" height="17.3" fill="#9e9e61"/>
<rect x="1909.2" y="713.8" width="154.4" height="18.0" fill="#787887"/>
<rect x="1909.2" y="731.5" width="154.4" height="17.8" fill="#9e9e61"/>
<rect x="1909.2" y="749.0" width="154.4" height="19.3" fill="#94946b"/>
<rect x="1909.2" y="768.0" width="154.4" height="18.4" fill="#7a7a85"/>
<rect x="1909.2" y="786.1" width="154.4" height="16.2" fill="#7a7a85"/>
<rect x="1909.2" y="802.0" width="154.4" height="18.9" fill="#5e5ea1"/>
<rect x="1909.2" y="820.6" width="154.4" height="18.2" fill="#94946b"/>
<rect x="1909.2" y="838.5" width="154.4" height="16.3" fill="#85857a"/>
<rect x="1909.2" y="854.5" width="154.4" height="19.8" fill="#8f8f70"/>
<rect x="1909.2" y="874.0" width="154.4" height="18.5" fill="#85857a"/>
<rect x="1909.2" y="892.2" width="154.4" height="17.9" fill="#85857a"/>
<rect x="1909.2" y="909.8" width="154.4" height="17.9" fill="#a1a15e"/>
<rect x="1909.2" y="927.4" width="154.4" height="17.9" fill="#999966"/>
<rect x="1909.2" y="945.0" width="154.4" height="19.2" fill="#5e5ea1"/>
<rect x="1909.2" y="963.9" width="154.4" height="17.4" fill="#63639c"/>
<rect x="1909.2" y="981.0" width="154.4" height="19.0" fill="#70708f"/>
<rect x="1909.2" y="999.7" width="154.4" height="15.6" fill="#6b6b94"/>
<rect x="1909.2" y="1015.0" width="154.4" height="19.6" fill="#63639c"/>
<rect x="1909.2" y="1034.3" width="154.4" height="19.0" fill="#85857a"/>
<rect x="1909.2" y="1053.0" width="154.4" height="16.8" fill="#8c8c73"/>
<rect x="1909.2" y="1069.5" width="154.4" height="16.5" fill="#a1a15e"/>
<rect x="1909.2" y="1085.7" width="154.4" height="17.9" fill="#808080"/>
<rect x="1909.2" y="1103.3" width="154.4" height="21.0" fill="#6b6b94"/>
<rect x="1909.2" y="1124.0" width="154.4" height="19.2" fill="#85857a"/>
<rect x="1909.2" y="1142.9" width="154.4" height="17.2" fill="#7d7d82"/>
<rect x="1909.2" y="1159.8" width="154.4" height="17.5" fill="#a8a857"/>
<rect x="1909.2" y="1177.0" width="154.4" height="18.3" fill="#808080"/>
<rect x="1909.2" y="1195.0" width="154.4" height="19.3" fill="#b8b847"/>
<rect x="1909.2" y="1214.0" width="154.4" height="20.6" fill="#c7c738"/>
<rect x="1909.2" y="1234.3" width="154.4" height="11.3" fill="#808080"/>
<rect x="1909.2" y="1245.3" width="154.4" height="22.0" fill="#5959a6"/>
<rect x="1909.2" y="1267.0" width="154.4" height="18.3" fill="#c7c738"/>
<rect x="1909.2" y="1285.0" width="154.4" height="20.1" fill="#94946b"/>
<rect x="1909.2" y="1304.8" width="154.4" height="12.0" fill="#4f4fb0"/>
<rect x="1909.2" y="1316.5" width="154.4" height="19.8" fill="#5959a6"/>
<rect x="1909.2" y="1336.0" width="154.4" height="19.8" fill="#9c9c63"/>
<rect x="1909.2" y="1355.5" width="154.4" height="17.1" fill="#4545ba"/>
<rect x="1909.2" y="1372.3" width="154.4" height="17.3" fill="#9c9c63"/>
<rect x="1909.2" y="1389.3" width="154.4" height="17.5" fill="#808080"/>
<rect x="1909.2" y="1406.5" width="154.4" height="19.8" fill="#4c4cb2"/>
<rect x="1909.2" y="1426.0" width="154.4" height="19.5" fill="#94946b"/>
<rect x="1909.2" y="1445.2" width="154.4" height="19.2" fill="#6b6b94"/>
<rect x="1909.2" y="1464.1" width="154.4" height="14.1" fill="#a1a15e"/>
<rect x="1909.2" y="1477.9" width="154.4" height="19.9" fill="#61619e"/>
<rect x="1909.2" y="1497.5" width="154.4" height="17.3" fill="#70708f"/>
<rect x="1909.2" y="1514.5" width="154.4" height="16.8" fill="#63639c"/>
<rect x="1909.2" y="1531.0" width="154.4" height="17.3" fill="#8f8f70"/>
<rect x="1909.2" y="1548.0" width="154.4" height="20.3" fill="#5959a6"/>
<rect x="1909.2" y="1568.0" width="154.4" height="19.0" fill="#6b6b94"/>
<rect x="1909.2" y="1586.7" width="154.4" height="18.0" fill="#a8a857"/>
<rect x="1909.2" y="1604.4" width="154.4" height="18.9" fill="#85857a"/>
<rect x="1909.2" y="1623.0" width="154.4" height="17.8" fill="#8c8c73"/>
<rect x="1909.2" y="1640.5" width="154.4" height="18.5" fill="#808080"/>
<rect x="1909.2" y="1658.7" width="154.4" height="17.6" fill="#808080"/>
<rect x="1909.2" y="1676.0" width="154.4" height="17.3" fill="#8c8c73"/>
<rect x="1909.2" y="1693.0" width="154.4" height="18.8" fill="#4a4ab5"/>
<rect x="1909.2" y="1711.5" width="154.4" height="18.8" fill="#a1a15e"/>
<rect x="1909.2" y="1730.0" width="154.4" height="17.5" fill="#6e6e91"/>
<rect x="1909.2" y="1747.2" width="154.4" height="18.4" fill="#8c8c73"/>
<rect x="1909.2" y="1765.3" width="154.4" height="16.6" fill="#5959a6"/>
</g>
<g filter="url(#b2)">
<rect x="555.3" y="301.7" width="1508.0" height="79.3" fill="#33d6ff"/>
<rect x="555.3" y="301.7" width="148.1" height="79.3" fill="#ff3333"/>
<rect x="855.8" y="301.7" width="148.6" height="79.3" fill="#ff3333"/>
<rect x="1003.9" y="301.7" width="151.2" height="79.3" fill="#ff3333"/>
<rect x="1606.3" y="301.7" width="150.4" height="79.3" fill="#ff3333"/>
<rect x="1909.2" y="301.7" width="154.1" height="79.3" fill="#ff3333"/>
</g>
<g filter="url(#b2)" fill="none" stroke-linecap="round">
<line x1="1687.0" y1="201.4" x2="1687.0" y2="295.5" stroke="#b4b4b4" stroke-width="5.5"/>
<line x1="1983.3" y1="220.5" x2="1983.3" y2="295.5" stroke="#b4b4b4" stroke-width="5.5"/>
<line x1="24.9" y1="1087.3" x2="249.3" y2="1087.3" stroke="#b4b4b4" stroke-width="5.5"/>
<line x1="24.9" y1="1739.7" x2="324.1" y2="1739.7" stroke="#b4b4b4" stroke-width="5.5"/>
<line x1="519.0" y1="460.7" x2="535.5" y2="460.7" stroke="#b4b4b4" stroke-width="5.2"/>
<line x1="520.0" y1="598.0" x2="535.5" y2="598.0" stroke="#b4b4b4" stroke-width="5.2"/>
<line x1="516.0" y1="617.0" x2="535.5" y2="617.0" stroke="#b4b4b4" stroke-width="5.2"/>
<line x1="522.0" y1="689.0" x2="535.5" y2="689.0" stroke="#b4b4b4" stroke-width="5.2"/>
<line x1="520.0" y1="707.3" x2="535.5" y2="707.3" stroke="#b4b4b4" stroke-width="5.2"/>
<line x1="504.5" y1="732.9" x2="504.5" y2="786.5" stroke="#b4b4b4" stroke-width="5.2"/>
<line x1="504.5" y1="786.5" x2="516.3" y2="786.5" stroke="#b4b4b4" stroke-width="5.2"/>
<line x1="516.3" y1="777.7" x2="535.5" y2="777.7" stroke="#b4b4b4" stroke-width="5.2"/>
<line x1="516.3" y1="795.3" x2="535.5" y2="795.3" stroke="#b4b4b4" stroke-width="5.2"/>
<line x1="467.9" y1="893.6" x2="489.9" y2="893.6" stroke="#b4b4b4" stroke-width="5.5"/>
<line x1="507.5" y1="884.8" x2="535.5" y2="884.8" stroke="#b4b4b4" stroke-width="5.2"/>
<line x1="517.0" y1="867.0" x2="535.5" y2="867.0" stroke="#b4b4b4" stroke-width="5.2"/>
<line x1="489.9" y1="925.9" x2="516.3" y2="925.9" stroke="#b4b4b4" stroke-width="5.2"/>
<line x1="517.0" y1="934.7" x2="535.5" y2="934.7" stroke="#b4b4b4" stroke-width="5.2"/>
<line x1="520.7" y1="958.0" x2="535.5" y2="958.0" stroke="#b4b4b4" stroke-width="5.2"/>
<line x1="520.7" y1="974.0" x2="535.5" y2="974.0" stroke="#b4b4b4" stroke-width="5.2"/>
<line x1="518.0" y1="1025.6" x2="535.5" y2="1025.6" stroke="#b4b4b4" stroke-width="5.2"/>
<line x1="518.0" y1="1050.0" x2="535.5" y2="1050.0" stroke="#b4b4b4" stroke-width="5.2"/>
<line x1="504.5" y1="1055.0" x2="504.5" y2="1124.5" stroke="#b4b4b4" stroke-width="5.2"/>
<line x1="504.5" y1="1055.0" x2="514.0" y2="1055.0" stroke="#b4b4b4" stroke-width="5.2"/>
<line x1="521.0" y1="1114.0" x2="535.5" y2="1114.0" stroke="#b4b4b4" stroke-width="5.2"/>
<line x1="490.3" y1="1086.4" x2="490.3" y2="1213.0" stroke="#b4b4b4" stroke-width="5.5"/>
<line x1="489.9" y1="1086.4" x2="504.5" y2="1086.4" stroke="#b4b4b4" stroke-width="5.2"/>
<line x1="514.0" y1="1203.7" x2="535.5" y2="1203.7" stroke="#b4b4b4" stroke-width="5.2"/>
<line x1="504.5" y1="1195.0" x2="504.5" y2="1235.0" stroke="#b4b4b4" stroke-width="5.2"/>
<line x1="519.0" y1="1224.0" x2="535.5" y2="1224.0" stroke="#b4b4b4" stroke-width="5.2"/>
<line x1="504.5" y1="1235.0" x2="517.0" y2="1235.0" stroke="#b4b4b4" stroke-width="5.2"/>
<line x1="513.3" y1="1283.0" x2="527.0" y2="1283.0" stroke="#b4b4b4" stroke-width="5.2"/>
<line x1="513.3" y1="1314.0" x2="535.5" y2="1314.0" stroke="#b4b4b4" stroke-width="5.2"/>
<line x1="514.0" y1="1365.0" x2="535.5" y2="1365.0" stroke="#b4b4b4" stroke-width="5.2"/>
<line x1="510.0" y1="1382.7" x2="535.5" y2="1382.7" stroke="#b4b4b4" stroke-width="5.2"/>
<line x1="454.1" y1="1423.7" x2="485.5" y2="1423.7" stroke="#b4b4b4" stroke-width="5.5"/>
<line x1="510.0" y1="1453.7" x2="535.5" y2="1453.7" stroke="#b4b4b4" stroke-width="5.2"/>
<line x1="508.0" y1="1472.8" x2="535.5" y2="1472.8" stroke="#b4b4b4" stroke-width="5.2"/>
<line x1="521.0" y1="1543.0" x2="535.5" y2="1543.0" stroke="#b4b4b4" stroke-width="5.2"/>
<line x1="498.7" y1="1584.3" x2="523.0" y2="1584.3" stroke="#b4b4b4" stroke-width="5.2"/>
<line x1="523.0" y1="1563.7" x2="535.5" y2="1563.7" stroke="#b4b4b4" stroke-width="5.2"/>
<line x1="521.0" y1="1631.0" x2="535.5" y2="1631.0" stroke="#b4b4b4" stroke-width="5.2"/>
<line x1="507.5" y1="1651.7" x2="535.5" y2="1651.7" stroke="#b4b4b4" stroke-width="5.2"/>
<line x1="481.1" y1="1689.9" x2="511.9" y2="1689.9" stroke="#b4b4b4" stroke-width="5.2"/>
<line x1="441.5" y1="1663.5" x2="481.1" y2="1663.5" stroke="#b4b4b4" stroke-width="5.5"/>
<line x1="519.0" y1="1725.0" x2="535.5" y2="1725.0" stroke="#b4b4b4" stroke-width="5.2"/>
<line x1="519.0" y1="1742.0" x2="535.5" y2="1742.0" stroke="#b4b4b4" stroke-width="5.2"/>
<line x1="1485.8" y1="18.3" x2="1485.8" y2="130.0" stroke="#9c9c9c" stroke-width="5.5"/>
<line x1="777.0" y1="194.5" x2="1005.9" y2="194.5" stroke="#9c9c9c" stroke-width="5.5"/>
<line x1="777.0" y1="193.9" x2="777.0" y2="295.5" stroke="#9c9c9c" stroke-width="5.5"/>
<line x1="933.4" y1="215.4" x2="933.4" y2="295.5" stroke="#9c9c9c" stroke-width="5.5"/>
<line x1="1310.3" y1="130.6" x2="1666.3" y2="130.6" stroke="#9c9c9c" stroke-width="5.5"/>
<line x1="1310.3" y1="130.0" x2="1310.3" y2="232.5" stroke="#9c9c9c" stroke-width="5.5"/>
<line x1="1666.3" y1="130.0" x2="1666.3" y2="197.0" stroke="#9c9c9c" stroke-width="5.5"/>
<line x1="1229.9" y1="232.9" x2="1229.9" y2="295.5" stroke="#9c9c9c" stroke-width="5.5"/>
<line x1="1687.0" y1="202.0" x2="1912.1" y2="202.0" stroke="#9c9c9c" stroke-width="5.5"/>
<line x1="1834.9" y1="221.1" x2="1983.3" y2="221.1" stroke="#9c9c9c" stroke-width="5.5"/>
<line x1="24.9" y1="1087.3" x2="24.9" y2="1739.7" stroke="#9c9c9c" stroke-width="5.5"/>
<line x1="249.3" y1="809.1" x2="249.3" y2="1359.2" stroke="#9c9c9c" stroke-width="5.5"/>
<line x1="391.6" y1="679.2" x2="391.6" y2="939.1" stroke="#9c9c9c" stroke-width="5.5"/>
<line x1="522.0" y1="419.6" x2="535.5" y2="419.6" stroke="#9c9c9c" stroke-width="5.2"/>
<line x1="522.0" y1="438.7" x2="535.5" y2="438.7" stroke="#9c9c9c" stroke-width="5.2"/>
<line x1="507.5" y1="520.8" x2="526.5" y2="520.8" stroke="#9c9c9c" stroke-width="5.2"/>
<line x1="467.9" y1="893.6" x2="467.9" y2="983.1" stroke="#9c9c9c" stroke-width="5.5"/>
<line x1="489.9" y1="871.6" x2="489.9" y2="925.9" stroke="#9c9c9c" stroke-width="5.5"/>
<line x1="467.9" y1="983.1" x2="511.9" y2="983.1" stroke="#9c9c9c" stroke-width="5.2"/>
<line x1="511.9" y1="965.5" x2="511.9" y2="1000.7" stroke="#9c9c9c" stroke-width="5.2"/>
<line x1="511.9" y1="965.5" x2="520.7" y2="965.5" stroke="#9c9c9c" stroke-width="5.2"/>
<line x1="520.7" y1="958.0" x2="520.7" y2="974.0" stroke="#9c9c9c" stroke-width="5.2"/>
<line x1="514.0" y1="1040.0" x2="514.0" y2="1075.0" stroke="#9c9c9c" stroke-width="5.2"/>
<line x1="521.0" y1="1097.0" x2="521.0" y2="1114.0" stroke="#9c9c9c" stroke-width="5.2"/>
<line x1="521.0" y1="1097.0" x2="535.5" y2="1097.0" stroke="#9c9c9c" stroke-width="5.2"/>
<line x1="504.5" y1="1124.5" x2="514.0" y2="1124.5" stroke="#9c9c9c" stroke-width="5.2"/>
<line x1="514.0" y1="1115.0" x2="514.0" y2="1145.0" stroke="#9c9c9c" stroke-width="5.2"/>
<line x1="521.0" y1="1136.0" x2="521.0" y2="1154.0" stroke="#9c9c9c" stroke-width="5.2"/>
<line x1="521.0" y1="1136.0" x2="535.5" y2="1136.0" stroke="#9c9c9c" stroke-width="5.2"/>
<line x1="521.0" y1="1154.0" x2="535.5" y2="1154.0" stroke="#9c9c9c" stroke-width="5.2"/>
<line x1="481.1" y1="1162.7" x2="489.9" y2="1162.7" stroke="#9c9c9c" stroke-width="5.5"/>
<line x1="481.1" y1="1162.7" x2="481.1" y2="1296.1" stroke="#9c9c9c" stroke-width="5.5"/>
<line x1="521.0" y1="1186.0" x2="535.5" y2="1186.0" stroke="#9c9c9c" stroke-width="5.2"/>
<line x1="512.0" y1="1180.0" x2="512.0" y2="1203.0" stroke="#9c9c9c" stroke-width="5.2"/>
<line x1="504.5" y1="1195.0" x2="512.0" y2="1195.0" stroke="#9c9c9c" stroke-width="5.2"/>
<line x1="513.3" y1="1283.0" x2="513.3" y2="1314.0" stroke="#9c9c9c" stroke-width="5.2"/>
<line x1="400.4" y1="1229.6" x2="400.4" y2="1484.5" stroke="#9c9c9c" stroke-width="5.5"/>
<line x1="400.4" y1="1484.5" x2="454.1" y2="1484.5" stroke="#9c9c9c" stroke-width="5.5"/>
<line x1="454.1" y1="1552.0" x2="498.7" y2="1552.0" stroke="#9c9c9c" stroke-width="5.5"/>
<line x1="513.0" y1="1508.0" x2="513.0" y2="1535.0" stroke="#9c9c9c" stroke-width="5.2"/>
<line x1="521.0" y1="1526.0" x2="521.0" y2="1543.0" stroke="#9c9c9c" stroke-width="5.2"/>
<line x1="521.0" y1="1526.0" x2="535.5" y2="1526.0" stroke="#9c9c9c" stroke-width="5.2"/>
<line x1="481.1" y1="1637.1" x2="481.1" y2="1689.9" stroke="#9c9c9c" stroke-width="5.5"/>
<line x1="521.0" y1="1614.0" x2="521.0" y2="1631.0" stroke="#9c9c9c" stroke-width="5.2"/>
<line x1="521.0" y1="1614.0" x2="535.5" y2="1614.0" stroke="#9c9c9c" stroke-width="5.2"/>
<line x1="507.5" y1="1624.0" x2="521.0" y2="1624.0" stroke="#9c9c9c" stroke-width="5.2"/>
<line x1="441.5" y1="1739.7" x2="516.3" y2="1739.7" stroke="#9c9c9c" stroke-width="5.2"/>
<line x1="324.1" y1="1704.0" x2="324.1" y2="1776.4" stroke="#9c9c9c" stroke-width="5.5"/>
<line x1="1382.8" y1="232.9" x2="1382.8" y2="295.5" stroke="#5c5c5c" stroke-width="6.0"/>
<line x1="1534.5" y1="197.5" x2="1534.5" y2="295.5" stroke="#5c5c5c" stroke-width="6.2"/>
<line x1="1834.9" y1="220.5" x2="1834.9" y2="295.5" stroke="#5c5c5c" stroke-width="6.0"/>
<line x1="490.5" y1="450.4" x2="490.5" y2="532.5" stroke="#5c5c5c" stroke-width="6.0"/>
<line x1="490.5" y1="450.4" x2="507.5" y2="450.4" stroke="#5c5c5c" stroke-width="5.6"/>
<line x1="522.0" y1="670.0" x2="522.0" y2="690.0" stroke="#5c5c5c" stroke-width="5.6"/>
<line x1="522.0" y1="670.0" x2="535.5" y2="670.0" stroke="#5c5c5c" stroke-width="5.6"/>
<line x1="489.9" y1="760.1" x2="489.9" y2="821.7" stroke="#5c5c5c" stroke-width="6.0"/>
<line x1="763.8" y1="18.9" x2="1485.8" y2="18.9" stroke="#3e3e3e" stroke-width="5.6"/>
<line x1="763.8" y1="18.3" x2="763.8" y2="174.0" stroke="#3e3e3e" stroke-width="5.6"/>
<line x1="629.7" y1="174.6" x2="894.4" y2="174.6" stroke="#3e3e3e" stroke-width="5.6"/>
<line x1="629.7" y1="174.0" x2="629.7" y2="295.5" stroke="#3e3e3e" stroke-width="5.6"/>
<line x1="894.4" y1="174.0" x2="894.4" y2="193.5" stroke="#3e3e3e" stroke-width="5.6"/>
<line x1="1005.9" y1="193.9" x2="1005.9" y2="215.0" stroke="#3e3e3e" stroke-width="5.6"/>
<line x1="933.4" y1="216.0" x2="1082.3" y2="216.0" stroke="#3e3e3e" stroke-width="5.6"/>
<line x1="1082.3" y1="215.4" x2="1082.3" y2="295.5" stroke="#3e3e3e" stroke-width="5.6"/>
<line x1="1229.9" y1="233.5" x2="1382.8" y2="233.5" stroke="#3e3e3e" stroke-width="5.6"/>
<line x1="1912.1" y1="201.4" x2="1912.1" y2="220.0" stroke="#3e3e3e" stroke-width="5.6"/>
<line x1="249.3" y1="809.1" x2="391.6" y2="809.1" stroke="#3e3e3e" stroke-width="5.6"/>
<line x1="249.3" y1="1359.2" x2="400.4" y2="1359.2" stroke="#3e3e3e" stroke-width="5.6"/>
<line x1="391.6" y1="679.2" x2="453.7" y2="679.2" stroke="#3e3e3e" stroke-width="5.6"/>
<line x1="391.6" y1="939.1" x2="467.9" y2="939.1" stroke="#3e3e3e" stroke-width="5.6"/>
<line x1="453.7" y1="790.3" x2="489.9" y2="790.3" stroke="#3e3e3e" stroke-width="5.6"/>
<line x1="490.5" y1="532.5" x2="507.5" y2="532.5" stroke="#3e3e3e" stroke-width="5.6"/>
<line x1="489.9" y1="821.7" x2="522.0" y2="821.7" stroke="#3e3e3e" stroke-width="5.6"/>
<line x1="400.4" y1="1229.6" x2="481.1" y2="1229.6" stroke="#3e3e3e" stroke-width="5.6"/>
<line x1="481.1" y1="1296.1" x2="513.3" y2="1296.1" stroke="#3e3e3e" stroke-width="5.6"/>
<line x1="481.1" y1="1637.1" x2="507.5" y2="1637.1" stroke="#3e3e3e" stroke-width="5.6"/>
<line x1="324.1" y1="1704.0" x2="441.5" y2="1704.0" stroke="#3e3e3e" stroke-width="6.2"/>
<line x1="324.1" y1="1776.4" x2="535.5" y2="1776.4" stroke="#3e3e3e" stroke-width="5.6"/>
<line x1="1534.5" y1="198.1" x2="1794.9" y2="198.1" stroke="#1e1e1e" stroke-width="5.6"/>
<line x1="454.3" y1="572.6" x2="454.3" y2="790.3" stroke="#1e1e1e" stroke-width="5.4"/>
<line x1="454.3" y1="572.6" x2="476.9" y2="572.6" stroke="#1e1e1e" stroke-width="5.4"/>
<line x1="477.1" y1="490.9" x2="477.1" y2="654.3" stroke="#1e1e1e" stroke-width="5.4"/>
<line x1="476.7" y1="490.9" x2="490.5" y2="490.9" stroke="#1e1e1e" stroke-width="5.4"/>
<line x1="507.5" y1="424.0" x2="507.5" y2="479.7" stroke="#3e3e3e" stroke-width="5.6"/>
<line x1="507.5" y1="424.0" x2="522.0" y2="424.0" stroke="#3e3e3e" stroke-width="5.6"/>
<line x1="522.0" y1="402.0" x2="522.0" y2="438.7" stroke="#3e3e3e" stroke-width="5.6"/>
<line x1="522.0" y1="402.0" x2="535.5" y2="402.0" stroke="#3e3e3e" stroke-width="5.6"/>
<line x1="507.5" y1="479.7" x2="517.7" y2="479.7" stroke="#3e3e3e" stroke-width="5.6"/>
<line x1="517.7" y1="460.7" x2="517.7" y2="493.0" stroke="#3e3e3e" stroke-width="5.6"/>
<line x1="519.0" y1="473.9" x2="535.5" y2="473.9" stroke="#3e3e3e" stroke-width="5.6"/>
<line x1="519.0" y1="493.0" x2="535.5" y2="493.0" stroke="#3e3e3e" stroke-width="5.6"/>
<line x1="507.5" y1="520.8" x2="507.5" y2="546.6" stroke="#3e3e3e" stroke-width="5.6"/>
<line x1="507.5" y1="546.6" x2="535.5" y2="546.6" stroke="#3e3e3e" stroke-width="5.6"/>
<line x1="527.0" y1="509.0" x2="527.0" y2="530.0" stroke="#3e3e3e" stroke-width="5.6"/>
<line x1="476.7" y1="654.3" x2="498.7" y2="654.3" stroke="#1e1e1e" stroke-width="5.4"/>
<line x1="498.7" y1="621.1" x2="498.7" y2="679.8" stroke="#1e1e1e" stroke-width="5.4"/>
<line x1="498.7" y1="621.1" x2="514.8" y2="621.1" stroke="#3e3e3e" stroke-width="5.6"/>
<line x1="514.8" y1="618.0" x2="526.0" y2="566.0" stroke="#3e3e3e" stroke-width="5.6"/>
<line x1="524.0" y1="580.0" x2="535.5" y2="580.0" stroke="#3e3e3e" stroke-width="5.6"/>
<line x1="513.5" y1="634.0" x2="513.5" y2="653.0" stroke="#3e3e3e" stroke-width="5.6"/>
<line x1="513.5" y1="634.0" x2="535.5" y2="634.0" stroke="#3e3e3e" stroke-width="5.6"/>
<line x1="513.5" y1="653.5" x2="535.5" y2="653.5" stroke="#3e3e3e" stroke-width="5.6"/>
<line x1="498.7" y1="679.8" x2="522.0" y2="679.8" stroke="#3e3e3e" stroke-width="5.6"/>
<line x1="518.0" y1="716.0" x2="518.0" y2="751.0" stroke="#3e3e3e" stroke-width="5.6"/>
<line x1="518.0" y1="722.0" x2="535.5" y2="722.0" stroke="#3e3e3e" stroke-width="5.6"/>
<line x1="522.0" y1="744.0" x2="535.5" y2="744.0" stroke="#3e3e3e" stroke-width="5.6"/>
<line x1="522.0" y1="758.7" x2="535.5" y2="758.7" stroke="#3e3e3e" stroke-width="5.6"/>
<line x1="522.5" y1="744.0" x2="522.5" y2="758.7" stroke="#3e3e3e" stroke-width="5.6"/>
<line x1="504.5" y1="732.9" x2="518.0" y2="732.9" stroke="#3e3e3e" stroke-width="5.6"/>
<line x1="489.9" y1="760.1" x2="504.5" y2="760.1" stroke="#3e3e3e" stroke-width="5.6"/>
<line x1="516.3" y1="777.7" x2="516.3" y2="795.3" stroke="#3e3e3e" stroke-width="5.6"/>
<line x1="522.0" y1="813.0" x2="522.0" y2="832.0" stroke="#3e3e3e" stroke-width="5.6"/>
<line x1="522.0" y1="813.0" x2="535.5" y2="813.0" stroke="#3e3e3e" stroke-width="5.6"/>
<line x1="522.0" y1="832.0" x2="535.5" y2="832.0" stroke="#3e3e3e" stroke-width="5.6"/>
<line x1="489.9" y1="871.6" x2="507.5" y2="871.6" stroke="#3e3e3e" stroke-width="5.6"/>
<line x1="507.5" y1="858.4" x2="507.5" y2="884.8" stroke="#3e3e3e" stroke-width="5.6"/>
<line x1="507.5" y1="858.4" x2="516.3" y2="858.4" stroke="#3e3e3e" stroke-width="5.6"/>
<line x1="517.0" y1="851.0" x2="517.0" y2="867.0" stroke="#3e3e3e" stroke-width="5.6"/>
<line x1="517.0" y1="851.0" x2="535.5" y2="851.0" stroke="#3e3e3e" stroke-width="5.6"/>
<line x1="517.0" y1="905.3" x2="517.0" y2="934.7" stroke="#3e3e3e" stroke-width="5.6"/>
<line x1="520.0" y1="905.3" x2="535.5" y2="905.3" stroke="#3e3e3e" stroke-width="5.6"/>
<line x1="520.0" y1="918.5" x2="535.5" y2="918.5" stroke="#3e3e3e" stroke-width="5.6"/>
<line x1="511.9" y1="1000.7" x2="525.0" y2="1000.7" stroke="#3e3e3e" stroke-width="5.6"/>
<line x1="525.0" y1="993.0" x2="525.0" y2="1007.0" stroke="#3e3e3e" stroke-width="5.6"/>
<line x1="525.0" y1="993.0" x2="535.5" y2="993.0" stroke="#3e3e3e" stroke-width="5.6"/>
<line x1="525.0" y1="1007.0" x2="535.5" y2="1007.0" stroke="#3e3e3e" stroke-width="5.6"/>
<line x1="516.3" y1="1028.0" x2="516.3" y2="1048.0" stroke="#3e3e3e" stroke-width="5.6"/>
<line x1="516.3" y1="1041.0" x2="535.5" y2="1041.0" stroke="#3e3e3e" stroke-width="5.6"/>
<line x1="521.0" y1="1064.0" x2="521.0" y2="1082.0" stroke="#3e3e3e" stroke-width="5.6"/>
<line x1="521.0" y1="1064.0" x2="535.5" y2="1064.0" stroke="#3e3e3e" stroke-width="5.6"/>
<line x1="521.0" y1="1082.0" x2="535.5" y2="1082.0" stroke="#3e3e3e" stroke-width="5.6"/>
<line x1="521.0" y1="1167.0" x2="521.0" y2="1186.0" stroke="#3e3e3e" stroke-width="5.6"/>
<line x1="521.0" y1="1167.0" x2="535.5" y2="1167.0" stroke="#3e3e3e" stroke-width="5.6"/>
<line x1="495.7" y1="1211.0" x2="495.7" y2="1256.5" stroke="#1e1e1e" stroke-width="5.9"/>
<line x1="495.7" y1="1256.5" x2="535.5" y2="1256.5" stroke="#3e3e3e" stroke-width="5.6"/>
<line x1="517.0" y1="1224.0" x2="517.0" y2="1239.0" stroke="#3e3e3e" stroke-width="5.6"/>
<line x1="517.0" y1="1239.0" x2="535.5" y2="1239.0" stroke="#3e3e3e" stroke-width="5.6"/>
<line x1="527.0" y1="1278.0" x2="527.0" y2="1295.0" stroke="#3e3e3e" stroke-width="5.6"/>
<line x1="519.0" y1="1328.4" x2="535.5" y2="1328.4" stroke="#3e3e3e" stroke-width="5.6"/>
<line x1="517.0" y1="1346.0" x2="535.5" y2="1346.0" stroke="#3e3e3e" stroke-width="5.6"/>
<line x1="519.0" y1="1328.0" x2="512.0" y2="1368.0" stroke="#3e3e3e" stroke-width="5.6"/>
<line x1="508.5" y1="1368.0" x2="508.5" y2="1409.0" stroke="#3e3e3e" stroke-width="5.6"/>
<line x1="520.0" y1="1400.0" x2="520.0" y2="1418.0" stroke="#3e3e3e" stroke-width="5.6"/>
<line x1="520.0" y1="1400.0" x2="535.5" y2="1400.0" stroke="#3e3e3e" stroke-width="5.6"/>
<line x1="520.0" y1="1418.0" x2="535.5" y2="1418.0" stroke="#3e3e3e" stroke-width="5.6"/>
<line x1="485.5" y1="1385.6" x2="507.5" y2="1385.6" stroke="#3e3e3e" stroke-width="5.6"/>
<line x1="485.5" y1="1385.6" x2="485.5" y2="1457.5" stroke="#1e1e1e" stroke-width="5.4"/>
<line x1="454.1" y1="1424.4" x2="454.1" y2="1552.0" stroke="#1e1e1e" stroke-width="5.4"/>
<line x1="485.5" y1="1457.5" x2="507.5" y2="1457.5" stroke="#3e3e3e" stroke-width="5.6"/>
<line x1="508.0" y1="1437.6" x2="508.0" y2="1472.8" stroke="#3e3e3e" stroke-width="5.6"/>
<line x1="511.0" y1="1436.0" x2="535.5" y2="1436.0" stroke="#3e3e3e" stroke-width="5.6"/>
<line x1="498.7" y1="1515.3" x2="498.7" y2="1584.3" stroke="#1e1e1e" stroke-width="5.9"/>
<line x1="498.7" y1="1515.3" x2="513.3" y2="1515.3" stroke="#3e3e3e" stroke-width="5.6"/>
<line x1="515.0" y1="1491.0" x2="515.0" y2="1508.0" stroke="#3e3e3e" stroke-width="5.6"/>
<line x1="517.0" y1="1490.4" x2="535.5" y2="1490.4" stroke="#3e3e3e" stroke-width="5.6"/>
<line x1="517.0" y1="1508.0" x2="535.5" y2="1508.0" stroke="#3e3e3e" stroke-width="5.6"/>
<line x1="523.0" y1="1565.0" x2="523.0" y2="1598.0" stroke="#3e3e3e" stroke-width="5.6"/>
<line x1="523.0" y1="1580.0" x2="535.5" y2="1580.0" stroke="#3e3e3e" stroke-width="5.6"/>
<line x1="523.0" y1="1597.0" x2="535.5" y2="1597.0" stroke="#3e3e3e" stroke-width="5.6"/>
<line x1="507.5" y1="1624.0" x2="507.5" y2="1651.7" stroke="#3e3e3e" stroke-width="5.6"/>
<line x1="512.5" y1="1672.0" x2="512.5" y2="1706.0" stroke="#3e3e3e" stroke-width="5.6"/>
<line x1="514.0" y1="1671.0" x2="535.5" y2="1671.0" stroke="#3e3e3e" stroke-width="5.6"/>
<line x1="516.0" y1="1687.0" x2="535.5" y2="1687.0" stroke="#3e3e3e" stroke-width="5.6"/>
<line x1="512.5" y1="1705.5" x2="535.5" y2="1705.5" stroke="#3e3e3e" stroke-width="5.6"/>
<line x1="441.5" y1="1663.5" x2="441.5" y2="1741.2" stroke="#1e1e1e" stroke-width="5.9"/>
<line x1="517.0" y1="1725.0" x2="517.0" y2="1760.0" stroke="#3e3e3e" stroke-width="5.6"/>
<line x1="517.0" y1="1760.0" x2="535.5" y2="1760.0" stroke="#3e3e3e" stroke-width="5.6"/>
</g>
<g filter="url(#b3)"><rect x="953.5" y="1840.5" width="125.5" height="116" fill="#ff3333"/><rect x="953.5" y="1956.5" width="125.5" height="124.8" fill="#33d6ff"/></g>
<g filter="url(#b4)"><text x="1118.5" y="1925.5" font-size="67.5" textLength="148.5" lengthAdjust="spacingAndGlyphs" stroke="#000" stroke-width="0.7">AGA</text>
<text x="1119" y="2046.5" font-size="67.5" textLength="329.5" lengthAdjust="spacingAndGlyphs" stroke="#000" stroke-width="0.7">SGA – nCU</text></g>
</svg></body></html>
